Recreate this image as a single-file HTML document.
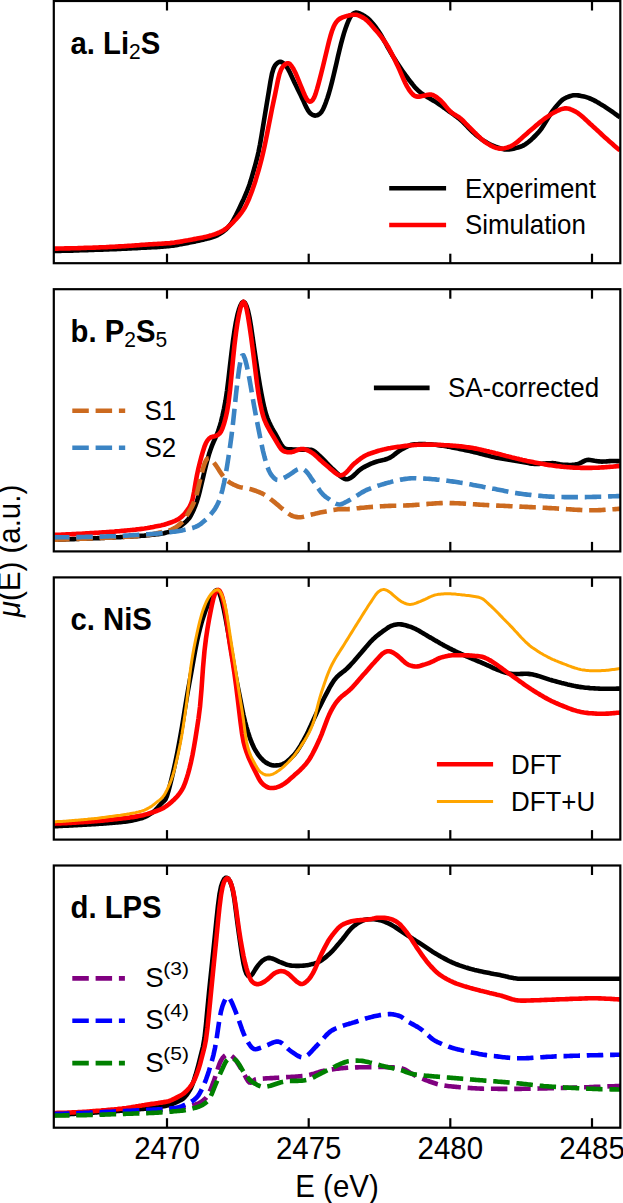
<!DOCTYPE html>
<html><head><meta charset="utf-8"><style>
html,body{margin:0;padding:0;background:#fff;width:623px;height:1203px;overflow:hidden}
svg{display:block}
text{font-family:"Liberation Sans",sans-serif}
</style></head><body>
<svg width="623" height="1203" viewBox="0 0 623 1203">
<defs><clipPath id="c0"><rect x="53.8" y="1.0" width="566.5" height="262.2"/></clipPath><clipPath id="c1"><rect x="53.8" y="289.2" width="566.5" height="262.2"/></clipPath><clipPath id="c2"><rect x="53.8" y="577.4" width="566.5" height="262.2"/></clipPath><clipPath id="c3"><rect x="53.8" y="865.5" width="566.5" height="262.2"/></clipPath></defs>
<rect width="623" height="1203" fill="#fff"/>
<path d="M53.0,251.0 54.5,251.0 56.0,250.9 57.5,250.9 59.0,250.9 60.5,250.9 62.0,250.8 63.5,250.8 65.0,250.8 66.5,250.7 68.0,250.7 69.5,250.6 71.0,250.6 72.5,250.6 74.0,250.5 75.5,250.5 77.0,250.4 78.5,250.4 80.0,250.3 81.5,250.3 83.0,250.2 84.5,250.2 86.0,250.1 87.5,250.1 89.0,250.0 90.5,250.0 92.0,249.9 93.5,249.9 95.0,249.8 96.5,249.8 98.0,249.7 99.5,249.7 101.0,249.6 102.5,249.6 104.0,249.5 105.5,249.5 107.0,249.4 108.5,249.4 110.0,249.3 111.5,249.2 113.0,249.2 114.5,249.1 116.0,249.1 117.5,249.0 119.0,248.9 120.5,248.9 122.0,248.8 123.5,248.7 125.0,248.7 126.5,248.6 128.0,248.5 129.5,248.4 131.0,248.4 132.5,248.3 134.0,248.2 135.5,248.2 137.0,248.1 138.5,248.0 140.0,247.9 141.5,247.8 143.0,247.8 144.5,247.7 146.0,247.6 147.5,247.5 149.0,247.5 150.5,247.4 152.0,247.3 153.5,247.2 155.0,247.1 156.5,247.1 158.0,247.0 159.5,246.9 161.0,246.8 162.5,246.7 164.0,246.5 165.5,246.4 167.0,246.3 168.5,246.1 170.0,246.0 171.5,245.8 173.0,245.6 174.5,245.4 176.0,245.1 177.5,244.9 179.0,244.6 180.5,244.3 182.0,244.1 183.5,243.8 185.0,243.5 186.5,243.2 188.0,242.9 189.5,242.6 191.0,242.3 192.5,242.0 194.0,241.7 195.5,241.4 197.0,241.0 198.5,240.7 200.0,240.4 201.5,240.0 203.0,239.7 204.5,239.3 206.0,238.9 207.5,238.6 209.0,238.2 210.5,237.8 212.0,237.3 213.5,236.8 215.0,236.3 216.5,235.7 218.0,234.9 219.5,234.0 221.0,233.1 222.5,232.1 224.0,231.0 225.5,229.8 227.0,228.4 228.5,226.8 230.0,225.1 231.5,223.0 233.0,220.6 234.5,217.9 236.0,215.1 237.5,212.1 239.0,209.0 240.5,205.8 242.0,202.6 243.5,199.4 245.0,196.0 246.5,192.5 248.0,188.7 249.5,184.5 251.0,179.8 252.5,174.7 254.0,169.5 255.5,164.1 257.0,158.4 258.5,152.0 260.0,144.5 261.5,135.9 263.0,126.7 264.5,117.5 266.0,108.4 267.5,99.4 269.0,90.3 270.5,81.1 272.0,73.5 273.5,68.6 275.0,65.5 276.5,63.7 278.0,62.5 279.5,61.8 281.0,61.8 282.5,62.5 284.0,63.7 285.5,65.3 287.0,67.4 288.5,69.9 290.0,72.8 291.5,76.0 293.0,79.3 294.5,82.5 296.0,85.6 297.5,88.7 299.0,91.8 300.5,94.8 302.0,97.9 303.5,101.1 305.0,104.5 306.5,107.7 308.0,110.4 309.5,112.5 311.0,113.9 312.5,114.8 314.0,115.4 315.5,115.6 317.0,115.3 318.5,114.6 320.0,113.6 321.5,111.9 323.0,109.4 324.5,106.0 326.0,102.1 327.5,97.8 329.0,93.0 330.5,87.6 332.0,81.8 333.5,75.7 335.0,69.4 336.5,62.9 338.0,56.3 339.5,49.9 341.0,43.9 342.5,38.3 344.0,33.1 345.5,28.5 347.0,24.4 348.5,20.7 350.0,17.6 351.5,15.3 353.0,13.8 354.5,12.9 356.0,12.6 357.5,12.8 359.0,13.2 360.5,13.8 362.0,14.5 363.5,15.4 365.0,16.3 366.5,17.3 368.0,18.5 369.5,19.9 371.0,21.5 372.5,23.2 374.0,25.0 375.5,26.9 377.0,29.0 378.5,31.1 380.0,33.5 381.5,36.0 383.0,38.6 384.5,41.3 386.0,44.0 387.5,46.8 389.0,49.5 390.5,52.1 392.0,54.7 393.5,57.1 395.0,59.5 396.5,61.9 398.0,64.2 399.5,66.5 401.0,68.8 402.5,71.0 404.0,73.1 405.5,75.2 407.0,77.2 408.5,79.2 410.0,81.1 411.5,83.0 413.0,84.9 414.5,86.7 416.0,88.4 417.5,89.9 419.0,91.3 420.5,92.5 422.0,93.7 423.5,94.7 425.0,95.7 426.5,96.6 428.0,97.5 429.5,98.3 431.0,99.2 432.5,100.1 434.0,100.9 435.5,101.9 437.0,102.8 438.5,103.8 440.0,104.9 441.5,105.9 443.0,107.0 444.5,108.0 446.0,109.1 447.5,110.2 449.0,111.3 450.5,112.4 452.0,113.4 453.5,114.5 455.0,115.6 456.5,116.7 458.0,117.8 459.5,118.9 461.0,120.2 462.5,121.6 464.0,123.1 465.5,124.7 467.0,126.3 468.5,127.9 470.0,129.4 471.5,130.9 473.0,132.3 474.5,133.6 476.0,134.9 477.5,136.1 479.0,137.3 480.5,138.5 482.0,139.6 483.5,140.6 485.0,141.6 486.5,142.4 488.0,143.3 489.5,144.1 491.0,144.8 492.5,145.5 494.0,146.1 495.5,146.7 497.0,147.2 498.5,147.8 500.0,148.3 501.5,148.7 503.0,149.1 504.5,149.4 506.0,149.5 507.5,149.5 509.0,149.5 510.5,149.3 512.0,149.0 513.5,148.7 515.0,148.3 516.5,147.9 518.0,147.5 519.5,147.0 521.0,146.5 522.5,145.9 524.0,145.1 525.5,144.2 527.0,143.1 528.5,142.0 530.0,140.7 531.5,139.4 533.0,138.0 534.5,136.5 536.0,135.0 537.5,133.4 539.0,131.8 540.5,129.9 542.0,127.8 543.5,125.5 545.0,123.1 546.5,120.6 548.0,118.1 549.5,115.7 551.0,113.3 552.5,111.1 554.0,109.1 555.5,107.2 557.0,105.4 558.5,103.7 560.0,102.1 561.5,100.6 563.0,99.4 564.5,98.5 566.0,97.7 567.5,97.1 569.0,96.5 570.5,96.0 572.0,95.6 573.5,95.3 575.0,95.2 576.5,95.3 578.0,95.4 579.5,95.6 581.0,95.9 582.5,96.2 584.0,96.5 585.5,96.9 587.0,97.4 588.5,97.9 590.0,98.5 591.5,99.1 593.0,99.8 594.5,100.6 596.0,101.4 597.5,102.3 599.0,103.1 600.5,104.1 602.0,105.0 603.5,105.9 605.0,106.8 606.5,107.8 608.0,108.8 609.5,109.8 611.0,110.8 612.5,111.9 614.0,113.0 615.5,114.1 617.0,115.2 618.5,116.3 620.0,117.1" fill="none" stroke="#000" stroke-width="4.6" stroke-linecap="butt" stroke-linejoin="round" clip-path="url(#c0)"/><path d="M53.0,248.6 54.5,248.6 56.0,248.6 57.5,248.6 59.0,248.5 60.5,248.5 62.0,248.5 63.5,248.5 65.0,248.4 66.5,248.4 68.0,248.4 69.5,248.4 71.0,248.3 72.5,248.3 74.0,248.2 75.5,248.2 77.0,248.2 78.5,248.1 80.0,248.1 81.5,248.0 83.0,248.0 84.5,247.9 86.0,247.9 87.5,247.8 89.0,247.8 90.5,247.7 92.0,247.7 93.5,247.6 95.0,247.6 96.5,247.5 98.0,247.5 99.5,247.4 101.0,247.3 102.5,247.3 104.0,247.2 105.5,247.2 107.0,247.1 108.5,247.0 110.0,246.9 111.5,246.9 113.0,246.8 114.5,246.7 116.0,246.6 117.5,246.5 119.0,246.4 120.5,246.4 122.0,246.3 123.5,246.2 125.0,246.1 126.5,246.0 128.0,245.9 129.5,245.8 131.0,245.7 132.5,245.6 134.0,245.5 135.5,245.4 137.0,245.3 138.5,245.2 140.0,245.0 141.5,244.9 143.0,244.8 144.5,244.7 146.0,244.6 147.5,244.5 149.0,244.4 150.5,244.3 152.0,244.2 153.5,244.1 155.0,244.0 156.5,244.0 158.0,243.9 159.5,243.8 161.0,243.7 162.5,243.6 164.0,243.5 165.5,243.4 167.0,243.3 168.5,243.2 170.0,243.1 171.5,242.9 173.0,242.8 174.5,242.6 176.0,242.3 177.5,242.1 179.0,241.9 180.5,241.6 182.0,241.4 183.5,241.1 185.0,240.8 186.5,240.5 188.0,240.3 189.5,240.0 191.0,239.7 192.5,239.4 194.0,239.1 195.5,238.9 197.0,238.6 198.5,238.3 200.0,238.0 201.5,237.7 203.0,237.4 204.5,237.1 206.0,236.8 207.5,236.4 209.0,236.0 210.5,235.5 212.0,235.1 213.5,234.6 215.0,234.2 216.5,233.6 218.0,233.0 219.5,232.4 221.0,231.7 222.5,230.9 224.0,230.0 225.5,229.0 227.0,227.9 228.5,226.6 230.0,225.3 231.5,223.9 233.0,222.4 234.5,220.8 236.0,219.2 237.5,217.5 239.0,215.7 240.5,213.8 242.0,211.8 243.5,209.6 245.0,207.2 246.5,204.3 248.0,201.1 249.5,197.5 251.0,193.6 252.5,189.6 254.0,185.3 255.5,180.7 257.0,175.7 258.5,170.5 260.0,165.1 261.5,159.4 263.0,153.2 264.5,146.6 266.0,139.4 267.5,131.8 269.0,124.1 270.5,116.5 272.0,108.9 273.5,101.7 275.0,94.7 276.5,87.4 278.0,79.9 279.5,73.8 281.0,69.7 282.5,67.1 284.0,65.3 285.5,64.1 287.0,63.3 288.5,63.3 290.0,64.1 291.5,65.9 293.0,68.2 294.5,71.0 296.0,74.1 297.5,77.6 299.0,81.3 300.5,85.0 302.0,88.7 303.5,92.3 305.0,95.7 306.5,98.6 308.0,100.6 309.5,101.6 311.0,101.4 312.5,100.2 314.0,97.8 315.5,94.1 317.0,89.2 318.5,83.8 320.0,78.2 321.5,72.3 323.0,66.2 324.5,60.0 326.0,53.8 327.5,47.5 329.0,41.4 330.5,35.8 332.0,31.0 333.5,27.1 335.0,24.0 336.5,21.7 338.0,20.1 339.5,18.9 341.0,18.1 342.5,17.4 344.0,16.9 345.5,16.4 347.0,16.0 348.5,15.6 350.0,15.3 351.5,15.0 353.0,14.8 354.5,14.7 356.0,14.8 357.5,15.1 359.0,15.6 360.5,16.3 362.0,17.1 363.5,17.9 365.0,18.9 366.5,20.1 368.0,21.5 369.5,23.1 371.0,24.8 372.5,26.5 374.0,28.2 375.5,29.9 377.0,31.6 378.5,33.4 380.0,35.2 381.5,37.2 383.0,39.2 384.5,41.3 386.0,43.6 387.5,45.9 389.0,48.5 390.5,51.3 392.0,54.2 393.5,57.2 395.0,60.2 396.5,63.4 398.0,66.5 399.5,69.9 401.0,73.4 402.5,76.9 404.0,80.3 405.5,83.5 407.0,86.4 408.5,88.9 410.0,91.1 411.5,93.0 413.0,94.6 414.5,95.8 416.0,96.4 417.5,96.6 419.0,96.6 420.5,96.4 422.0,96.1 423.5,95.7 425.0,95.4 426.5,95.1 428.0,94.8 429.5,94.6 431.0,94.6 432.5,94.9 434.0,95.6 435.5,96.5 437.0,97.5 438.5,98.7 440.0,100.0 441.5,101.4 443.0,103.1 444.5,104.8 446.0,106.6 447.5,108.4 449.0,110.1 450.5,111.6 452.0,112.9 453.5,113.9 455.0,114.9 456.5,115.7 458.0,116.6 459.5,117.7 461.0,118.9 462.5,120.3 464.0,121.7 465.5,123.3 467.0,124.8 468.5,126.4 470.0,127.9 471.5,129.4 473.0,130.9 474.5,132.4 476.0,133.8 477.5,135.3 479.0,136.8 480.5,138.2 482.0,139.5 483.5,140.8 485.0,141.9 486.5,143.0 488.0,143.9 489.5,144.8 491.0,145.7 492.5,146.4 494.0,147.1 495.5,147.7 497.0,148.1 498.5,148.4 500.0,148.6 501.5,148.6 503.0,148.5 504.5,148.3 506.0,147.9 507.5,147.5 509.0,146.9 510.5,146.3 512.0,145.6 513.5,144.7 515.0,143.7 516.5,142.6 518.0,141.4 519.5,140.1 521.0,138.8 522.5,137.4 524.0,136.0 525.5,134.7 527.0,133.4 528.5,132.1 530.0,130.8 531.5,129.5 533.0,128.2 534.5,126.9 536.0,125.6 537.5,124.4 539.0,123.1 540.5,121.9 542.0,120.7 543.5,119.5 545.0,118.4 546.5,117.3 548.0,116.3 549.5,115.3 551.0,114.3 552.5,113.4 554.0,112.5 555.5,111.8 557.0,111.0 558.5,110.3 560.0,109.6 561.5,109.1 563.0,108.7 564.5,108.4 566.0,108.3 567.5,108.5 569.0,108.8 570.5,109.3 572.0,109.9 573.5,110.6 575.0,111.3 576.5,112.2 578.0,113.2 579.5,114.3 581.0,115.5 582.5,116.8 584.0,118.1 585.5,119.5 587.0,120.9 588.5,122.3 590.0,123.7 591.5,125.0 593.0,126.4 594.5,127.7 596.0,129.1 597.5,130.5 599.0,131.9 600.5,133.3 602.0,134.7 603.5,136.1 605.0,137.5 606.5,138.8 608.0,140.1 609.5,141.5 611.0,142.8 612.5,144.1 614.0,145.4 615.5,146.7 617.0,148.0 618.5,149.2 620.0,150.1" fill="none" stroke="#ff0000" stroke-width="4.6" stroke-linecap="butt" stroke-linejoin="round" clip-path="url(#c0)"/><path d="M53.0,539.7 54.5,539.7 56.0,539.6 57.5,539.6 59.0,539.5 60.5,539.5 62.0,539.5 63.5,539.4 65.0,539.4 66.5,539.3 68.0,539.3 69.5,539.2 71.0,539.2 72.5,539.1 74.0,539.1 75.5,539.0 77.0,539.0 78.5,538.9 80.0,538.8 81.5,538.8 83.0,538.7 84.5,538.7 86.0,538.6 87.5,538.5 89.0,538.5 90.5,538.4 92.0,538.4 93.5,538.3 95.0,538.2 96.5,538.2 98.0,538.1 99.5,538.1 101.0,538.0 102.5,537.9 104.0,537.9 105.5,537.8 107.0,537.8 108.5,537.7 110.0,537.6 111.5,537.5 113.0,537.5 114.5,537.4 116.0,537.3 117.5,537.2 119.0,537.2 120.5,537.1 122.0,537.0 123.5,536.9 125.0,536.8 126.5,536.7 128.0,536.6 129.5,536.6 131.0,536.5 132.5,536.4 134.0,536.3 135.5,536.2 137.0,536.1 138.5,536.0 140.0,535.9 141.5,535.8 143.0,535.7 144.5,535.6 146.0,535.4 147.5,535.3 149.0,535.1 150.5,535.0 152.0,534.8 153.5,534.7 155.0,534.5 156.5,534.3 158.0,534.1 159.5,533.9 161.0,533.7 162.5,533.5 164.0,533.2 165.5,532.8 167.0,532.4 168.5,532.0 170.0,531.5 171.5,530.9 173.0,530.3 174.5,529.6 176.0,528.9 177.5,528.1 179.0,527.2 180.5,526.2 182.0,525.0 183.5,523.8 185.0,522.5 186.5,521.1 188.0,519.5 189.5,517.7 191.0,515.3 192.5,512.3 194.0,509.0 195.5,505.3 197.0,501.2 198.5,496.1 200.0,490.3 201.5,483.9 203.0,477.6 204.5,471.3 206.0,465.2 207.5,459.5 209.0,454.3 210.5,449.7 212.0,445.6 213.5,442.0 215.0,438.8 216.5,435.4 218.0,431.6 219.5,427.1 221.0,421.8 222.5,415.6 224.0,408.7 225.5,400.8 227.0,390.8 228.5,378.7 230.0,365.6 231.5,352.7 233.0,340.9 234.5,330.5 236.0,321.7 237.5,314.7 239.0,309.4 240.5,305.4 242.0,302.7 243.5,301.8 245.0,302.9 246.5,306.0 248.0,310.8 249.5,317.5 251.0,326.5 252.5,336.7 254.0,347.0 255.5,357.2 257.0,367.2 258.5,376.8 260.0,385.9 261.5,394.1 263.0,401.6 264.5,408.4 266.0,414.0 267.5,418.3 269.0,421.9 270.5,425.1 272.0,428.0 273.5,430.7 275.0,433.2 276.5,435.9 278.0,438.7 279.5,441.5 281.0,444.2 282.5,446.4 284.0,448.0 285.5,448.8 287.0,449.1 288.5,449.2 290.0,449.3 291.5,449.4 293.0,449.5 294.5,449.6 296.0,449.6 297.5,449.7 299.0,449.7 300.5,449.7 302.0,449.7 303.5,449.7 305.0,449.6 306.5,449.6 308.0,449.6 309.5,449.7 311.0,449.8 312.5,450.2 314.0,451.0 315.5,452.1 317.0,453.5 318.5,454.9 320.0,456.3 321.5,457.7 323.0,459.2 324.5,460.7 326.0,462.2 327.5,463.8 329.0,465.4 330.5,466.9 332.0,468.4 333.5,469.8 335.0,471.2 336.5,472.6 338.0,474.0 339.5,475.4 341.0,476.6 342.5,477.7 344.0,478.5 345.5,479.1 347.0,479.2 348.5,478.9 350.0,478.2 351.5,477.3 353.0,476.2 354.5,474.8 356.0,473.4 357.5,471.9 359.0,470.5 360.5,469.4 362.0,468.3 363.5,467.4 365.0,466.6 366.5,465.8 368.0,465.1 369.5,464.4 371.0,463.7 372.5,463.1 374.0,462.5 375.5,462.0 377.0,461.5 378.5,461.1 380.0,460.8 381.5,460.4 383.0,460.1 384.5,459.7 386.0,459.2 387.5,458.7 389.0,458.1 390.5,457.4 392.0,456.4 393.5,455.3 395.0,454.1 396.5,452.9 398.0,451.8 399.5,450.7 401.0,449.8 402.5,449.0 404.0,448.2 405.5,447.3 407.0,446.6 408.5,445.9 410.0,445.3 411.5,444.8 413.0,444.5 414.5,444.3 416.0,444.2 417.5,444.2 419.0,444.1 420.5,444.1 422.0,444.1 423.5,444.1 425.0,444.1 426.5,444.2 428.0,444.2 429.5,444.3 431.0,444.4 432.5,444.5 434.0,444.7 435.5,444.8 437.0,445.0 438.5,445.2 440.0,445.4 441.5,445.6 443.0,445.8 444.5,446.0 446.0,446.3 447.5,446.6 449.0,446.8 450.5,447.1 452.0,447.4 453.5,447.7 455.0,448.0 456.5,448.3 458.0,448.6 459.5,448.9 461.0,449.2 462.5,449.5 464.0,449.8 465.5,450.2 467.0,450.5 468.5,450.8 470.0,451.1 471.5,451.5 473.0,451.8 474.5,452.2 476.0,452.5 477.5,452.9 479.0,453.3 480.5,453.7 482.0,454.1 483.5,454.5 485.0,454.9 486.5,455.2 488.0,455.6 489.5,456.0 491.0,456.4 492.5,456.7 494.0,457.1 495.5,457.4 497.0,457.7 498.5,458.0 500.0,458.2 501.5,458.5 503.0,458.8 504.5,459.0 506.0,459.3 507.5,459.5 509.0,459.8 510.5,460.0 512.0,460.2 513.5,460.5 515.0,460.7 516.5,461.0 518.0,461.2 519.5,461.4 521.0,461.7 522.5,461.9 524.0,462.2 525.5,462.5 527.0,462.8 528.5,463.1 530.0,463.4 531.5,463.6 533.0,463.8 534.5,463.9 536.0,464.0 537.5,464.0 539.0,463.9 540.5,463.8 542.0,463.7 543.5,463.6 545.0,463.5 546.5,463.4 548.0,463.3 549.5,463.2 551.0,463.2 552.5,463.1 554.0,463.2 555.5,463.4 557.0,463.7 558.5,464.0 560.0,464.3 561.5,464.5 563.0,464.7 564.5,464.8 566.0,464.9 567.5,464.9 569.0,465.0 570.5,465.0 572.0,464.9 573.5,464.7 575.0,464.5 576.5,464.2 578.0,463.9 579.5,463.4 581.0,462.7 582.5,461.9 584.0,461.1 585.5,460.4 587.0,460.0 588.5,459.9 590.0,460.0 591.5,460.2 593.0,460.5 594.5,460.8 596.0,461.0 597.5,461.3 599.0,461.4 600.5,461.5 602.0,461.6 603.5,461.5 605.0,461.5 606.5,461.4 608.0,461.2 609.5,461.1 611.0,461.0 612.5,461.0 614.0,461.0 615.5,461.0 617.0,461.1 618.5,461.1 620.0,461.2" fill="none" stroke="#000" stroke-width="4.6" stroke-linecap="butt" stroke-linejoin="round" clip-path="url(#c1)"/><path d="M53.0,534.9 54.5,534.9 56.0,534.8 57.5,534.8 59.0,534.7 60.5,534.7 62.0,534.6 63.5,534.6 65.0,534.5 66.5,534.4 68.0,534.4 69.5,534.3 71.0,534.2 72.5,534.1 74.0,534.1 75.5,534.0 77.0,533.9 78.5,533.8 80.0,533.7 81.5,533.7 83.0,533.6 84.5,533.5 86.0,533.4 87.5,533.3 89.0,533.2 90.5,533.1 92.0,533.0 93.5,533.0 95.0,532.9 96.5,532.8 98.0,532.7 99.5,532.6 101.0,532.5 102.5,532.4 104.0,532.3 105.5,532.2 107.0,532.1 108.5,532.0 110.0,531.9 111.5,531.8 113.0,531.7 114.5,531.6 116.0,531.4 117.5,531.3 119.0,531.2 120.5,531.0 122.0,530.9 123.5,530.8 125.0,530.6 126.5,530.5 128.0,530.3 129.5,530.2 131.0,530.0 132.5,529.9 134.0,529.7 135.5,529.6 137.0,529.4 138.5,529.3 140.0,529.1 141.5,528.9 143.0,528.7 144.5,528.5 146.0,528.2 147.5,528.0 149.0,527.7 150.5,527.4 152.0,527.2 153.5,526.9 155.0,526.6 156.5,526.3 158.0,526.0 159.5,525.7 161.0,525.4 162.5,525.0 164.0,524.7 165.5,524.2 167.0,523.8 168.5,523.3 170.0,522.8 171.5,522.3 173.0,521.7 174.5,521.1 176.0,520.4 177.5,519.6 179.0,518.7 180.5,517.6 182.0,516.4 183.5,514.9 185.0,513.2 186.5,511.3 188.0,509.2 189.5,506.9 191.0,503.9 192.5,499.4 194.0,492.2 195.5,483.2 197.0,474.9 198.5,468.0 200.0,462.0 201.5,456.4 203.0,451.2 204.5,446.5 206.0,442.9 207.5,440.4 209.0,438.6 210.5,437.5 212.0,436.9 213.5,436.5 215.0,436.2 216.5,435.6 218.0,434.8 219.5,433.5 221.0,431.5 222.5,428.2 224.0,423.8 225.5,418.4 227.0,411.8 228.5,402.8 230.0,390.5 231.5,375.4 233.0,359.6 234.5,345.0 236.0,332.7 237.5,322.5 239.0,314.2 240.5,307.7 242.0,303.3 243.5,301.8 245.0,303.5 246.5,308.6 248.0,316.4 249.5,325.8 251.0,336.2 252.5,347.4 254.0,359.2 255.5,371.4 257.0,383.5 258.5,393.9 260.0,402.5 261.5,409.6 263.0,415.4 264.5,419.9 266.0,423.4 267.5,426.4 269.0,429.2 270.5,431.9 272.0,434.4 273.5,436.8 275.0,439.2 276.5,441.7 278.0,444.3 279.5,446.7 281.0,448.8 282.5,450.3 284.0,451.3 285.5,451.8 287.0,452.1 288.5,452.3 290.0,452.3 291.5,452.1 293.0,451.7 294.5,451.2 296.0,450.6 297.5,450.0 299.0,449.5 300.5,449.1 302.0,449.0 303.5,449.0 305.0,449.4 306.5,449.9 308.0,450.5 309.5,451.3 311.0,452.1 312.5,453.1 314.0,454.2 315.5,455.5 317.0,456.9 318.5,458.3 320.0,459.7 321.5,461.1 323.0,462.4 324.5,463.7 326.0,465.0 327.5,466.3 329.0,467.6 330.5,468.9 332.0,470.1 333.5,471.4 335.0,472.6 336.5,473.8 338.0,474.7 339.5,475.2 341.0,475.4 342.5,475.0 344.0,474.2 345.5,473.1 347.0,471.6 348.5,470.0 350.0,468.2 351.5,466.4 353.0,464.8 354.5,463.4 356.0,462.2 357.5,460.9 359.0,459.8 360.5,458.7 362.0,457.6 363.5,456.6 365.0,455.8 366.5,455.0 368.0,454.3 369.5,453.8 371.0,453.2 372.5,452.7 374.0,452.2 375.5,451.8 377.0,451.3 378.5,450.8 380.0,450.4 381.5,450.0 383.0,449.6 384.5,449.3 386.0,448.9 387.5,448.6 389.0,448.3 390.5,448.1 392.0,447.8 393.5,447.5 395.0,447.3 396.5,447.1 398.0,446.9 399.5,446.7 401.0,446.5 402.5,446.3 404.0,446.1 405.5,445.9 407.0,445.7 408.5,445.5 410.0,445.4 411.5,445.2 413.0,445.1 414.5,445.0 416.0,444.9 417.5,444.8 419.0,444.8 420.5,444.7 422.0,444.7 423.5,444.6 425.0,444.6 426.5,444.6 428.0,444.6 429.5,444.6 431.0,444.6 432.5,444.6 434.0,444.7 435.5,444.7 437.0,444.8 438.5,444.9 440.0,444.9 441.5,445.0 443.0,445.1 444.5,445.2 446.0,445.2 447.5,445.3 449.0,445.4 450.5,445.5 452.0,445.6 453.5,445.7 455.0,445.8 456.5,446.0 458.0,446.1 459.5,446.3 461.0,446.4 462.5,446.6 464.0,446.8 465.5,447.0 467.0,447.2 468.5,447.4 470.0,447.6 471.5,447.8 473.0,448.1 474.5,448.4 476.0,448.6 477.5,448.9 479.0,449.3 480.5,449.6 482.0,449.9 483.5,450.3 485.0,450.6 486.5,451.0 488.0,451.3 489.5,451.7 491.0,452.0 492.5,452.4 494.0,452.8 495.5,453.2 497.0,453.5 498.5,453.9 500.0,454.3 501.5,454.7 503.0,455.1 504.5,455.5 506.0,455.9 507.5,456.2 509.0,456.6 510.5,457.0 512.0,457.4 513.5,457.7 515.0,458.1 516.5,458.5 518.0,458.8 519.5,459.2 521.0,459.5 522.5,459.9 524.0,460.2 525.5,460.5 527.0,460.9 528.5,461.2 530.0,461.5 531.5,461.8 533.0,462.1 534.5,462.4 536.0,462.7 537.5,463.0 539.0,463.3 540.5,463.6 542.0,463.8 543.5,464.1 545.0,464.4 546.5,464.6 548.0,464.9 549.5,465.1 551.0,465.3 552.5,465.5 554.0,465.7 555.5,465.9 557.0,466.1 558.5,466.2 560.0,466.4 561.5,466.6 563.0,466.7 564.5,466.9 566.0,467.0 567.5,467.2 569.0,467.3 570.5,467.4 572.0,467.5 573.5,467.6 575.0,467.7 576.5,467.7 578.0,467.8 579.5,467.8 581.0,467.9 582.5,467.9 584.0,467.9 585.5,467.9 587.0,467.9 588.5,467.9 590.0,467.9 591.5,467.9 593.0,467.8 594.5,467.8 596.0,467.7 597.5,467.7 599.0,467.6 600.5,467.5 602.0,467.4 603.5,467.4 605.0,467.3 606.5,467.1 608.0,467.0 609.5,466.9 611.0,466.8 612.5,466.7 614.0,466.5 615.5,466.4 617.0,466.3 618.5,466.1 620.0,466.0" fill="none" stroke="#ff0000" stroke-width="4.6" stroke-linecap="butt" stroke-linejoin="round" clip-path="url(#c1)"/><path d="M53.0,539.7 54.5,539.7 56.0,539.6 57.5,539.6 59.0,539.5 60.5,539.5 62.0,539.5 63.5,539.4 65.0,539.4 66.5,539.3 68.0,539.3 69.5,539.2 71.0,539.2 72.5,539.1 74.0,539.1 75.5,539.0 77.0,538.9 78.5,538.9 80.0,538.8 81.5,538.8 83.0,538.7 84.5,538.7 86.0,538.6 87.5,538.5 89.0,538.5 90.5,538.4 92.0,538.4 93.5,538.3 95.0,538.2 96.5,538.2 98.0,538.1 99.5,538.1 101.0,538.0 102.5,537.9 104.0,537.9 105.5,537.8 107.0,537.8 108.5,537.7 110.0,537.6 111.5,537.6 113.0,537.5 114.5,537.4 116.0,537.3 117.5,537.2 119.0,537.2 120.5,537.1 122.0,537.0 123.5,536.9 125.0,536.8 126.5,536.7 128.0,536.7 129.5,536.6 131.0,536.5 132.5,536.4 134.0,536.3 135.5,536.2 137.0,536.1 138.5,536.0 140.0,535.9 141.5,535.7 143.0,535.6 144.5,535.4 146.0,535.2 147.5,534.9 149.0,534.7 150.5,534.4 152.0,534.2 153.5,533.9 155.0,533.6 156.5,533.3 158.0,532.9 159.5,532.6 161.0,532.3 162.5,531.9 164.0,531.6 165.5,531.3 167.0,530.9 168.5,530.6 170.0,530.1 171.5,529.6 173.0,528.9 174.5,528.0 176.0,527.1 177.5,526.0 179.0,524.9 180.5,523.6 182.0,522.3 183.5,520.6 185.0,518.5 186.5,516.1 188.0,513.6 189.5,511.0 191.0,508.4 192.5,505.6 194.0,502.3 195.5,498.2 197.0,493.0 198.5,486.7 200.0,480.2 201.5,474.1 203.0,468.5 204.5,463.7 206.0,460.3 207.5,458.6 209.0,458.3 210.5,459.1 212.0,460.5 213.5,462.2 215.0,464.1 216.5,466.3 218.0,468.6 219.5,470.9 221.0,473.2 222.5,475.4 224.0,477.5 225.5,479.2 227.0,480.6 228.5,481.7 230.0,482.7 231.5,483.5 233.0,484.3 234.5,485.0 236.0,485.7 237.5,486.3 239.0,486.9 240.5,487.3 242.0,487.6 243.5,487.9 245.0,488.1 246.5,488.3 248.0,488.6 249.5,488.9 251.0,489.3 252.5,489.7 254.0,490.2 255.5,490.7 257.0,491.3 258.5,491.9 260.0,492.5 261.5,493.2 263.0,493.9 264.5,494.8 266.0,495.7 267.5,496.8 269.0,497.9 270.5,499.1 272.0,500.2 273.5,501.4 275.0,502.6 276.5,503.9 278.0,505.1 279.5,506.4 281.0,507.7 282.5,508.9 284.0,510.1 285.5,511.3 287.0,512.5 288.5,513.6 290.0,514.6 291.5,515.5 293.0,516.1 294.5,516.6 296.0,516.9 297.5,517.1 299.0,517.2 300.5,517.2 302.0,517.0 303.5,516.7 305.0,516.3 306.5,515.9 308.0,515.5 309.5,515.1 311.0,514.7 312.5,514.3 314.0,514.0 315.5,513.6 317.0,513.3 318.5,512.9 320.0,512.6 321.5,512.3 323.0,512.0 324.5,511.7 326.0,511.4 327.5,511.1 329.0,510.8 330.5,510.5 332.0,510.2 333.5,510.0 335.0,509.7 336.5,509.5 338.0,509.3 339.5,509.2 341.0,509.1 342.5,509.1 344.0,509.1 345.5,509.1 347.0,509.2 348.5,509.1 350.0,509.1 351.5,508.9 353.0,508.7 354.5,508.5 356.0,508.4 357.5,508.2 359.0,508.1 360.5,507.9 362.0,507.8 363.5,507.7 365.0,507.5 366.5,507.4 368.0,507.3 369.5,507.1 371.0,507.0 372.5,506.9 374.0,506.8 375.5,506.7 377.0,506.6 378.5,506.5 380.0,506.4 381.5,506.3 383.0,506.2 384.5,506.1 386.0,506.0 387.5,506.0 389.0,505.9 390.5,505.9 392.0,505.8 393.5,505.8 395.0,505.7 396.5,505.7 398.0,505.7 399.5,505.6 401.0,505.6 402.5,505.5 404.0,505.5 405.5,505.5 407.0,505.4 408.5,505.4 410.0,505.3 411.5,505.2 413.0,505.1 414.5,505.0 416.0,504.9 417.5,504.8 419.0,504.7 420.5,504.6 422.0,504.5 423.5,504.3 425.0,504.2 426.5,504.1 428.0,503.9 429.5,503.8 431.0,503.7 432.5,503.6 434.0,503.5 435.5,503.4 437.0,503.3 438.5,503.2 440.0,503.1 441.5,503.1 443.0,503.0 444.5,503.0 446.0,503.0 447.5,503.0 449.0,503.0 450.5,503.1 452.0,503.1 453.5,503.1 455.0,503.2 456.5,503.2 458.0,503.3 459.5,503.4 461.0,503.5 462.5,503.5 464.0,503.6 465.5,503.7 467.0,503.8 468.5,503.9 470.0,504.0 471.5,504.1 473.0,504.2 474.5,504.3 476.0,504.4 477.5,504.5 479.0,504.6 480.5,504.7 482.0,504.8 483.5,504.9 485.0,505.0 486.5,505.0 488.0,505.1 489.5,505.2 491.0,505.3 492.5,505.3 494.0,505.4 495.5,505.5 497.0,505.6 498.5,505.6 500.0,505.7 501.5,505.8 503.0,505.8 504.5,505.9 506.0,506.0 507.5,506.0 509.0,506.1 510.5,506.2 512.0,506.2 513.5,506.3 515.0,506.4 516.5,506.4 518.0,506.5 519.5,506.6 521.0,506.6 522.5,506.7 524.0,506.8 525.5,506.9 527.0,506.9 528.5,507.0 530.0,507.1 531.5,507.1 533.0,507.2 534.5,507.3 536.0,507.3 537.5,507.4 539.0,507.5 540.5,507.6 542.0,507.6 543.5,507.7 545.0,507.8 546.5,507.9 548.0,508.0 549.5,508.1 551.0,508.1 552.5,508.2 554.0,508.3 555.5,508.4 557.0,508.5 558.5,508.6 560.0,508.7 561.5,508.8 563.0,508.9 564.5,509.0 566.0,509.1 567.5,509.2 569.0,509.3 570.5,509.4 572.0,509.5 573.5,509.6 575.0,509.7 576.5,509.8 578.0,509.9 579.5,509.9 581.0,510.0 582.5,510.1 584.0,510.1 585.5,510.2 587.0,510.2 588.5,510.3 590.0,510.3 591.5,510.3 593.0,510.3 594.5,510.2 596.0,510.2 597.5,510.2 599.0,510.1 600.5,510.1 602.0,510.0 603.5,509.9 605.0,509.8 606.5,509.7 608.0,509.6 609.5,509.5 611.0,509.4 612.5,509.3 614.0,509.2 615.5,509.1 617.0,509.0 618.5,508.9 620.0,508.8" fill="none" stroke="#cc6a1f" stroke-width="4.6" stroke-dasharray="16.5 6.8" stroke-linecap="butt" stroke-linejoin="round" clip-path="url(#c1)"/><path d="M53.0,537.3 54.5,537.3 56.0,537.3 57.5,537.3 59.0,537.3 60.5,537.3 62.0,537.3 63.5,537.3 65.0,537.3 66.5,537.2 68.0,537.2 69.5,537.2 71.0,537.2 72.5,537.2 74.0,537.2 75.5,537.1 77.0,537.1 78.5,537.1 80.0,537.1 81.5,537.0 83.0,537.0 84.5,537.0 86.0,536.9 87.5,536.9 89.0,536.9 90.5,536.8 92.0,536.8 93.5,536.8 95.0,536.7 96.5,536.7 98.0,536.7 99.5,536.6 101.0,536.6 102.5,536.6 104.0,536.5 105.5,536.5 107.0,536.4 108.5,536.4 110.0,536.3 111.5,536.3 113.0,536.2 114.5,536.2 116.0,536.1 117.5,536.0 119.0,535.9 120.5,535.9 122.0,535.8 123.5,535.7 125.0,535.6 126.5,535.6 128.0,535.5 129.5,535.4 131.0,535.3 132.5,535.2 134.0,535.1 135.5,535.0 137.0,535.0 138.5,534.9 140.0,534.8 141.5,534.7 143.0,534.6 144.5,534.5 146.0,534.4 147.5,534.3 149.0,534.2 150.5,534.1 152.0,534.0 153.5,533.9 155.0,533.8 156.5,533.6 158.0,533.5 159.5,533.4 161.0,533.2 162.5,533.1 164.0,532.9 165.5,532.7 167.0,532.6 168.5,532.4 170.0,532.2 171.5,532.0 173.0,531.8 174.5,531.7 176.0,531.4 177.5,531.2 179.0,530.9 180.5,530.7 182.0,530.4 183.5,530.1 185.0,529.7 186.5,529.4 188.0,529.1 189.5,528.7 191.0,528.4 192.5,528.0 194.0,527.4 195.5,526.9 197.0,526.2 198.5,525.4 200.0,524.4 201.5,523.3 203.0,522.0 204.5,520.7 206.0,519.4 207.5,517.9 209.0,516.3 210.5,514.6 212.0,512.8 213.5,510.9 215.0,508.8 216.5,506.3 218.0,503.3 219.5,499.7 221.0,495.1 222.5,489.6 224.0,483.0 225.5,475.5 227.0,466.7 228.5,457.0 230.0,446.8 231.5,435.9 233.0,423.3 234.5,408.9 236.0,394.3 237.5,380.9 239.0,369.7 240.5,361.0 242.0,355.7 243.5,355.3 245.0,358.9 246.5,364.6 248.0,371.4 249.5,379.2 251.0,387.8 252.5,396.8 254.0,405.4 255.5,413.5 257.0,421.3 258.5,429.0 260.0,436.6 261.5,444.1 263.0,451.0 264.5,457.0 266.0,462.3 267.5,467.0 269.0,470.8 270.5,473.7 272.0,475.8 273.5,477.5 275.0,478.9 276.5,479.8 278.0,480.0 279.5,479.7 281.0,479.2 282.5,478.6 284.0,477.9 285.5,477.1 287.0,476.2 288.5,475.4 290.0,474.4 291.5,473.4 293.0,472.3 294.5,471.2 296.0,470.3 297.5,469.4 299.0,468.8 300.5,468.6 302.0,468.8 303.5,469.3 305.0,470.3 306.5,471.7 308.0,473.5 309.5,475.6 311.0,477.9 312.5,480.1 314.0,482.3 315.5,484.4 317.0,486.6 318.5,488.7 320.0,490.8 321.5,492.8 323.0,494.5 324.5,495.9 326.0,497.1 327.5,498.1 329.0,499.1 330.5,500.2 332.0,501.3 333.5,502.3 335.0,503.2 336.5,503.9 338.0,504.3 339.5,504.5 341.0,504.2 342.5,503.7 344.0,503.0 345.5,502.2 347.0,501.5 348.5,500.6 350.0,499.8 351.5,498.9 353.0,498.0 354.5,497.2 356.0,496.2 357.5,495.3 359.0,494.3 360.5,493.4 362.0,492.4 363.5,491.6 365.0,490.8 366.5,490.0 368.0,489.4 369.5,488.8 371.0,488.2 372.5,487.6 374.0,487.0 375.5,486.5 377.0,486.0 378.5,485.5 380.0,485.1 381.5,484.6 383.0,484.2 384.5,483.8 386.0,483.3 387.5,482.9 389.0,482.5 390.5,482.1 392.0,481.6 393.5,481.2 395.0,480.9 396.5,480.5 398.0,480.2 399.5,479.9 401.0,479.6 402.5,479.4 404.0,479.1 405.5,478.9 407.0,478.7 408.5,478.5 410.0,478.4 411.5,478.3 413.0,478.2 414.5,478.2 416.0,478.2 417.5,478.3 419.0,478.3 420.5,478.4 422.0,478.4 423.5,478.5 425.0,478.6 426.5,478.7 428.0,478.8 429.5,478.9 431.0,479.0 432.5,479.2 434.0,479.3 435.5,479.4 437.0,479.6 438.5,479.7 440.0,479.9 441.5,480.1 443.0,480.2 444.5,480.4 446.0,480.6 447.5,480.8 449.0,481.0 450.5,481.2 452.0,481.4 453.5,481.6 455.0,481.8 456.5,482.0 458.0,482.2 459.5,482.5 461.0,482.7 462.5,483.0 464.0,483.2 465.5,483.5 467.0,483.7 468.5,484.0 470.0,484.3 471.5,484.6 473.0,484.9 474.5,485.2 476.0,485.4 477.5,485.7 479.0,486.0 480.5,486.3 482.0,486.6 483.5,486.9 485.0,487.2 486.5,487.5 488.0,487.7 489.5,488.0 491.0,488.3 492.5,488.6 494.0,488.8 495.5,489.1 497.0,489.4 498.5,489.7 500.0,490.0 501.5,490.3 503.0,490.6 504.5,490.9 506.0,491.2 507.5,491.5 509.0,491.8 510.5,492.1 512.0,492.4 513.5,492.6 515.0,492.9 516.5,493.1 518.0,493.4 519.5,493.6 521.0,493.8 522.5,494.0 524.0,494.2 525.5,494.4 527.0,494.6 528.5,494.8 530.0,494.9 531.5,495.1 533.0,495.2 534.5,495.4 536.0,495.5 537.5,495.7 539.0,495.8 540.5,495.9 542.0,496.0 543.5,496.2 545.0,496.3 546.5,496.4 548.0,496.5 549.5,496.6 551.0,496.6 552.5,496.7 554.0,496.8 555.5,496.8 557.0,496.9 558.5,496.9 560.0,497.0 561.5,497.0 563.0,497.0 564.5,497.1 566.0,497.1 567.5,497.1 569.0,497.1 570.5,497.1 572.0,497.1 573.5,497.1 575.0,497.1 576.5,497.1 578.0,497.1 579.5,497.1 581.0,497.1 582.5,497.1 584.0,497.1 585.5,497.1 587.0,497.0 588.5,497.0 590.0,497.0 591.5,497.0 593.0,496.9 594.5,496.9 596.0,496.9 597.5,496.8 599.0,496.8 600.5,496.7 602.0,496.7 603.5,496.6 605.0,496.6 606.5,496.5 608.0,496.5 609.5,496.4 611.0,496.4 612.5,496.3 614.0,496.3 615.5,496.2 617.0,496.1 618.5,496.1 620.0,496.0" fill="none" stroke="#3b84c4" stroke-width="4.6" stroke-dasharray="16.5 6.8" stroke-linecap="butt" stroke-linejoin="round" clip-path="url(#c1)"/><path d="M53.0,826.2 54.5,826.2 56.0,826.1 57.5,826.1 59.0,826.0 60.5,825.9 62.0,825.9 63.5,825.8 65.0,825.7 66.5,825.7 68.0,825.6 69.5,825.5 71.0,825.4 72.5,825.4 74.0,825.3 75.5,825.2 77.0,825.1 78.5,825.0 80.0,825.0 81.5,824.9 83.0,824.8 84.5,824.7 86.0,824.6 87.5,824.5 89.0,824.5 90.5,824.4 92.0,824.3 93.5,824.2 95.0,824.1 96.5,824.0 98.0,823.9 99.5,823.8 101.0,823.7 102.5,823.6 104.0,823.5 105.5,823.4 107.0,823.2 108.5,823.1 110.0,823.0 111.5,822.9 113.0,822.7 114.5,822.6 116.0,822.5 117.5,822.4 119.0,822.2 120.5,822.1 122.0,822.0 123.5,821.8 125.0,821.7 126.5,821.5 128.0,821.2 129.5,821.0 131.0,820.7 132.5,820.4 134.0,820.1 135.5,819.7 137.0,819.4 138.5,819.0 140.0,818.6 141.5,818.2 143.0,817.7 144.5,817.1 146.0,816.4 147.5,815.6 149.0,814.8 150.5,813.9 152.0,812.9 153.5,811.7 155.0,810.4 156.5,809.0 158.0,807.3 159.5,805.6 161.0,803.8 162.5,802.3 164.0,801.1 165.5,799.4 167.0,795.9 168.5,790.9 170.0,785.1 171.5,779.1 173.0,772.8 174.5,766.1 176.0,759.0 177.5,751.6 179.0,743.7 180.5,735.5 182.0,726.8 183.5,717.7 185.0,708.2 186.5,699.0 188.0,690.3 189.5,682.1 191.0,674.0 192.5,665.7 194.0,657.2 195.5,648.9 197.0,641.2 198.5,634.5 200.0,628.4 201.5,623.0 203.0,617.9 204.5,613.4 206.0,609.3 207.5,605.6 209.0,602.1 210.5,598.7 212.0,595.7 213.5,593.1 215.0,591.2 216.5,590.1 218.0,590.6 219.5,593.3 221.0,597.8 222.5,603.5 224.0,610.3 225.5,617.9 227.0,626.0 228.5,634.4 230.0,642.9 231.5,651.7 233.0,660.6 234.5,669.4 236.0,677.7 237.5,685.4 239.0,692.8 240.5,700.3 242.0,708.0 243.5,715.2 245.0,721.5 246.5,727.1 248.0,732.1 249.5,736.7 251.0,740.9 252.5,744.6 254.0,747.8 255.5,750.5 257.0,752.9 258.5,755.1 260.0,757.0 261.5,758.7 263.0,760.2 264.5,761.5 266.0,762.6 267.5,763.4 269.0,764.2 270.5,764.8 272.0,765.2 273.5,765.4 275.0,765.5 276.5,765.4 278.0,765.3 279.5,765.0 281.0,764.6 282.5,764.1 284.0,763.5 285.5,762.7 287.0,761.6 288.5,760.3 290.0,759.0 291.5,757.4 293.0,755.9 294.5,754.2 296.0,752.4 297.5,750.3 299.0,748.0 300.5,745.6 302.0,743.0 303.5,740.4 305.0,737.6 306.5,734.7 308.0,731.7 309.5,728.5 311.0,725.3 312.5,721.9 314.0,718.6 315.5,715.4 317.0,712.2 318.5,709.1 320.0,706.1 321.5,703.1 323.0,700.2 324.5,697.3 326.0,694.4 327.5,691.6 329.0,688.7 330.5,686.0 332.0,683.5 333.5,681.2 335.0,679.2 336.5,677.4 338.0,675.9 339.5,674.6 341.0,673.4 342.5,672.2 344.0,671.1 345.5,669.9 347.0,668.5 348.5,667.0 350.0,665.5 351.5,663.8 353.0,662.2 354.5,660.5 356.0,658.7 357.5,657.0 359.0,655.3 360.5,653.6 362.0,651.8 363.5,650.0 365.0,648.2 366.5,646.4 368.0,644.7 369.5,643.0 371.0,641.3 372.5,639.8 374.0,638.4 375.5,637.1 377.0,635.8 378.5,634.6 380.0,633.4 381.5,632.3 383.0,631.2 384.5,630.1 386.0,629.1 387.5,628.0 389.0,627.0 390.5,626.2 392.0,625.6 393.5,625.1 395.0,624.8 396.5,624.5 398.0,624.3 399.5,624.3 401.0,624.4 402.5,624.6 404.0,624.9 405.5,625.3 407.0,625.7 408.5,626.2 410.0,626.6 411.5,627.2 413.0,627.8 414.5,628.5 416.0,629.2 417.5,630.0 419.0,630.8 420.5,631.7 422.0,632.6 423.5,633.5 425.0,634.4 426.5,635.3 428.0,636.2 429.5,637.1 431.0,637.9 432.5,638.8 434.0,639.7 435.5,640.6 437.0,641.4 438.5,642.3 440.0,643.2 441.5,644.0 443.0,644.9 444.5,645.7 446.0,646.5 447.5,647.3 449.0,648.1 450.5,648.8 452.0,649.6 453.5,650.3 455.0,651.1 456.5,651.8 458.0,652.5 459.5,653.2 461.0,653.9 462.5,654.5 464.0,655.2 465.5,655.9 467.0,656.5 468.5,657.2 470.0,657.8 471.5,658.4 473.0,659.1 474.5,659.7 476.0,660.3 477.5,661.0 479.0,661.6 480.5,662.2 482.0,662.9 483.5,663.5 485.0,664.2 486.5,664.9 488.0,665.5 489.5,666.2 491.0,666.9 492.5,667.6 494.0,668.3 495.5,668.9 497.0,669.5 498.5,670.1 500.0,670.7 501.5,671.3 503.0,671.8 504.5,672.3 506.0,672.7 507.5,673.1 509.0,673.4 510.5,673.7 512.0,673.9 513.5,674.0 515.0,674.0 516.5,674.0 518.0,674.0 519.5,674.0 521.0,673.9 522.5,673.9 524.0,673.8 525.5,673.8 527.0,673.8 528.5,673.9 530.0,674.1 531.5,674.3 533.0,674.6 534.5,674.9 536.0,675.3 537.5,675.7 539.0,676.1 540.5,676.6 542.0,677.1 543.5,677.6 545.0,678.1 546.5,678.6 548.0,679.1 549.5,679.6 551.0,680.0 552.5,680.5 554.0,680.9 555.5,681.3 557.0,681.7 558.5,682.1 560.0,682.5 561.5,682.9 563.0,683.2 564.5,683.6 566.0,684.0 567.5,684.4 569.0,684.7 570.5,685.1 572.0,685.4 573.5,685.8 575.0,686.1 576.5,686.4 578.0,686.6 579.5,686.9 581.0,687.1 582.5,687.3 584.0,687.5 585.5,687.7 587.0,687.8 588.5,687.9 590.0,688.1 591.5,688.2 593.0,688.3 594.5,688.4 596.0,688.5 597.5,688.5 599.0,688.6 600.5,688.7 602.0,688.7 603.5,688.7 605.0,688.8 606.5,688.8 608.0,688.8 609.5,688.8 611.0,688.8 612.5,688.8 614.0,688.7 615.5,688.7 617.0,688.6 618.5,688.6 620.0,688.5" fill="none" stroke="#000" stroke-width="4.6" stroke-linecap="butt" stroke-linejoin="round" clip-path="url(#c2)"/><path d="M53.0,823.6 54.5,823.6 56.0,823.5 57.5,823.5 59.0,823.4 60.5,823.4 62.0,823.3 63.5,823.3 65.0,823.2 66.5,823.1 68.0,823.0 69.5,823.0 71.0,822.9 72.5,822.8 74.0,822.7 75.5,822.6 77.0,822.5 78.5,822.4 80.0,822.3 81.5,822.2 83.0,822.1 84.5,822.0 86.0,821.9 87.5,821.9 89.0,821.8 90.5,821.6 92.0,821.5 93.5,821.4 95.0,821.3 96.5,821.2 98.0,821.0 99.5,820.9 101.0,820.8 102.5,820.6 104.0,820.5 105.5,820.3 107.0,820.2 108.5,820.0 110.0,819.8 111.5,819.7 113.0,819.5 114.5,819.3 116.0,819.2 117.5,819.0 119.0,818.8 120.5,818.7 122.0,818.5 123.5,818.3 125.0,818.1 126.5,818.0 128.0,817.8 129.5,817.6 131.0,817.3 132.5,817.1 134.0,816.9 135.5,816.6 137.0,816.4 138.5,816.1 140.0,815.8 141.5,815.5 143.0,815.2 144.5,814.8 146.0,814.4 147.5,814.0 149.0,813.5 150.5,813.0 152.0,812.5 153.5,812.1 155.0,811.5 156.5,811.0 158.0,810.4 159.5,809.8 161.0,809.2 162.5,808.5 164.0,807.7 165.5,806.7 167.0,805.6 168.5,804.5 170.0,803.2 171.5,801.9 173.0,800.6 174.5,799.2 176.0,797.7 177.5,796.0 179.0,794.1 180.5,792.1 182.0,789.8 183.5,786.9 185.0,783.2 186.5,778.8 188.0,773.8 189.5,768.3 191.0,762.1 192.5,755.0 194.0,746.9 195.5,738.0 197.0,728.4 198.5,718.5 200.0,706.8 201.5,689.4 203.0,667.9 204.5,650.8 206.0,638.4 207.5,628.3 209.0,619.7 210.5,611.8 212.0,604.4 213.5,598.0 215.0,593.5 216.5,590.8 218.0,589.9 219.5,590.6 221.0,593.3 222.5,597.7 224.0,604.1 225.5,612.9 227.0,623.8 228.5,635.1 230.0,645.4 231.5,654.7 233.0,663.9 234.5,673.8 236.0,684.9 237.5,696.9 239.0,709.4 240.5,722.1 242.0,733.3 243.5,741.6 245.0,747.3 246.5,752.0 248.0,756.0 249.5,759.6 251.0,762.8 252.5,765.9 254.0,768.9 255.5,771.9 257.0,775.0 258.5,778.0 260.0,780.6 261.5,782.7 263.0,784.2 264.5,785.4 266.0,786.4 267.5,787.2 269.0,787.7 270.5,788.0 272.0,788.0 273.5,788.0 275.0,787.7 276.5,787.4 278.0,786.9 279.5,786.3 281.0,785.7 282.5,784.8 284.0,783.9 285.5,782.8 287.0,781.7 288.5,780.4 290.0,779.1 291.5,777.8 293.0,776.5 294.5,775.1 296.0,773.8 297.5,772.5 299.0,771.1 300.5,769.7 302.0,768.2 303.5,766.6 305.0,764.9 306.5,763.2 308.0,761.2 309.5,759.0 311.0,756.5 312.5,753.8 314.0,750.9 315.5,747.9 317.0,744.7 318.5,741.5 320.0,738.2 321.5,734.6 323.0,730.7 324.5,726.6 326.0,722.6 327.5,718.6 329.0,715.1 330.5,711.9 332.0,709.1 333.5,706.5 335.0,704.1 336.5,702.0 338.0,700.2 339.5,698.5 341.0,697.1 342.5,695.8 344.0,694.6 345.5,693.4 347.0,692.2 348.5,691.0 350.0,689.6 351.5,688.2 353.0,686.6 354.5,684.9 356.0,683.3 357.5,681.5 359.0,679.8 360.5,678.1 362.0,676.3 363.5,674.6 365.0,672.9 366.5,671.2 368.0,669.5 369.5,667.7 371.0,666.0 372.5,664.3 374.0,662.7 375.5,661.0 377.0,659.4 378.5,657.7 380.0,656.1 381.5,654.6 383.0,653.3 384.5,652.3 386.0,651.6 387.5,651.2 389.0,651.2 390.5,651.5 392.0,652.1 393.5,652.8 395.0,653.8 396.5,654.9 398.0,656.1 399.5,657.4 401.0,658.8 402.5,660.2 404.0,661.6 405.5,662.9 407.0,664.0 408.5,664.8 410.0,665.4 411.5,665.8 413.0,666.2 414.5,666.4 416.0,666.5 417.5,666.4 419.0,666.2 420.5,665.8 422.0,665.3 423.5,664.8 425.0,664.4 426.5,663.9 428.0,663.4 429.5,662.8 431.0,662.2 432.5,661.5 434.0,660.8 435.5,660.0 437.0,659.2 438.5,658.5 440.0,657.9 441.5,657.4 443.0,657.0 444.5,656.6 446.0,656.2 447.5,655.9 449.0,655.6 450.5,655.5 452.0,655.3 453.5,655.3 455.0,655.2 456.5,655.2 458.0,655.2 459.5,655.2 461.0,655.2 462.5,655.2 464.0,655.3 465.5,655.3 467.0,655.4 468.5,655.4 470.0,655.5 471.5,655.6 473.0,655.7 474.5,655.9 476.0,656.0 477.5,656.1 479.0,656.3 480.5,656.5 482.0,656.8 483.5,657.3 485.0,657.8 486.5,658.5 488.0,659.2 489.5,660.1 491.0,660.9 492.5,661.9 494.0,662.9 495.5,663.9 497.0,664.9 498.5,666.0 500.0,667.1 501.5,668.2 503.0,669.3 504.5,670.4 506.0,671.5 507.5,672.6 509.0,673.6 510.5,674.6 512.0,675.7 513.5,676.8 515.0,677.8 516.5,678.9 518.0,680.0 519.5,681.1 521.0,682.2 522.5,683.2 524.0,684.3 525.5,685.4 527.0,686.4 528.5,687.4 530.0,688.4 531.5,689.4 533.0,690.3 534.5,691.3 536.0,692.2 537.5,693.1 539.0,694.0 540.5,695.0 542.0,695.8 543.5,696.7 545.0,697.6 546.5,698.4 548.0,699.2 549.5,700.0 551.0,700.8 552.5,701.5 554.0,702.2 555.5,702.9 557.0,703.5 558.5,704.1 560.0,704.8 561.5,705.4 563.0,706.0 564.5,706.6 566.0,707.2 567.5,707.8 569.0,708.4 570.5,708.9 572.0,709.5 573.5,710.0 575.0,710.4 576.5,710.9 578.0,711.3 579.5,711.6 581.0,712.0 582.5,712.2 584.0,712.5 585.5,712.7 587.0,712.9 588.5,713.1 590.0,713.2 591.5,713.3 593.0,713.4 594.5,713.5 596.0,713.6 597.5,713.7 599.0,713.7 600.5,713.7 602.0,713.7 603.5,713.7 605.0,713.7 606.5,713.6 608.0,713.6 609.5,713.5 611.0,713.4 612.5,713.3 614.0,713.1 615.5,713.0 617.0,712.8 618.5,712.7 620.0,712.6" fill="none" stroke="#ff0000" stroke-width="4.6" stroke-linecap="butt" stroke-linejoin="round" clip-path="url(#c2)"/><path d="M53.0,821.8 54.5,821.7 56.0,821.7 57.5,821.6 59.0,821.5 60.5,821.4 62.0,821.4 63.5,821.3 65.0,821.2 66.5,821.1 68.0,820.9 69.5,820.8 71.0,820.7 72.5,820.6 74.0,820.5 75.5,820.3 77.0,820.2 78.5,820.1 80.0,819.9 81.5,819.8 83.0,819.7 84.5,819.5 86.0,819.4 87.5,819.3 89.0,819.1 90.5,819.0 92.0,818.8 93.5,818.7 95.0,818.5 96.5,818.4 98.0,818.2 99.5,818.0 101.0,817.8 102.5,817.6 104.0,817.4 105.5,817.2 107.0,817.0 108.5,816.8 110.0,816.6 111.5,816.4 113.0,816.2 114.5,816.0 116.0,815.8 117.5,815.6 119.0,815.4 120.5,815.2 122.0,814.9 123.5,814.7 125.0,814.5 126.5,814.3 128.0,814.0 129.5,813.8 131.0,813.5 132.5,813.2 134.0,812.9 135.5,812.6 137.0,812.2 138.5,811.9 140.0,811.5 141.5,811.1 143.0,810.6 144.5,810.1 146.0,809.4 147.5,808.6 149.0,807.8 150.5,806.9 152.0,805.9 153.5,804.8 155.0,803.6 156.5,802.4 158.0,801.2 159.5,800.1 161.0,798.8 162.5,797.3 164.0,795.4 165.5,792.8 167.0,789.9 168.5,786.7 170.0,783.2 171.5,779.3 173.0,774.7 174.5,769.3 176.0,763.1 177.5,756.6 179.0,749.9 180.5,742.5 182.0,734.1 183.5,724.4 185.0,714.3 186.5,703.6 188.0,690.8 189.5,677.3 191.0,665.8 192.5,656.2 194.0,647.8 195.5,640.2 197.0,633.2 198.5,626.5 200.0,620.3 201.5,614.8 203.0,610.1 204.5,606.1 206.0,602.5 207.5,599.5 209.0,596.9 210.5,594.8 212.0,593.0 213.5,591.6 215.0,590.5 216.5,589.9 218.0,589.8 219.5,590.8 221.0,593.0 222.5,596.6 224.0,601.2 225.5,607.1 227.0,614.9 228.5,624.4 230.0,634.5 231.5,644.2 233.0,653.5 234.5,662.7 236.0,672.2 237.5,681.8 239.0,691.6 240.5,701.0 242.0,710.1 243.5,720.1 245.0,731.6 246.5,741.5 248.0,748.0 249.5,752.6 251.0,756.3 252.5,759.3 254.0,762.2 255.5,765.0 257.0,767.6 258.5,769.9 260.0,771.6 261.5,772.8 263.0,773.8 264.5,774.5 266.0,775.0 267.5,775.1 269.0,775.1 270.5,774.8 272.0,774.4 273.5,773.8 275.0,773.0 276.5,772.1 278.0,771.1 279.5,770.0 281.0,768.9 282.5,767.7 284.0,766.3 285.5,764.9 287.0,763.5 288.5,762.0 290.0,760.4 291.5,758.8 293.0,757.1 294.5,755.2 296.0,753.2 297.5,751.1 299.0,749.0 300.5,746.7 302.0,744.4 303.5,742.1 305.0,739.8 306.5,737.3 308.0,734.6 309.5,731.7 311.0,728.5 312.5,724.8 314.0,720.4 315.5,714.9 317.0,708.6 318.5,702.6 320.0,697.2 321.5,692.3 323.0,687.7 324.5,683.2 326.0,678.9 327.5,674.9 329.0,671.1 330.5,667.6 332.0,664.5 333.5,661.7 335.0,659.0 336.5,656.5 338.0,654.1 339.5,651.7 341.0,649.4 342.5,647.1 344.0,644.7 345.5,642.3 347.0,639.9 348.5,637.5 350.0,635.0 351.5,632.6 353.0,630.2 354.5,627.8 356.0,625.4 357.5,623.0 359.0,620.6 360.5,618.2 362.0,615.8 363.5,613.4 365.0,611.0 366.5,608.7 368.0,606.3 369.5,604.0 371.0,601.8 372.5,599.5 374.0,597.2 375.5,595.0 377.0,593.1 378.5,591.7 380.0,590.6 381.5,589.9 383.0,589.6 384.5,589.6 386.0,590.0 387.5,590.7 389.0,591.6 390.5,592.7 392.0,594.0 393.5,595.3 395.0,596.6 396.5,597.9 398.0,599.2 399.5,600.3 401.0,601.4 402.5,602.2 404.0,602.9 405.5,603.5 407.0,604.0 408.5,604.3 410.0,604.4 411.5,604.3 413.0,604.0 414.5,603.6 416.0,603.1 417.5,602.5 419.0,601.9 420.5,601.3 422.0,600.6 423.5,600.0 425.0,599.4 426.5,598.7 428.0,597.9 429.5,597.2 431.0,596.5 432.5,595.8 434.0,595.3 435.5,594.9 437.0,594.6 438.5,594.3 440.0,594.2 441.5,594.0 443.0,593.9 444.5,593.8 446.0,593.8 447.5,593.8 449.0,593.8 450.5,593.8 452.0,593.9 453.5,594.0 455.0,594.1 456.5,594.3 458.0,594.4 459.5,594.6 461.0,594.7 462.5,594.9 464.0,595.1 465.5,595.3 467.0,595.4 468.5,595.6 470.0,595.8 471.5,596.0 473.0,596.2 474.5,596.4 476.0,596.7 477.5,597.0 479.0,597.3 480.5,597.8 482.0,598.5 483.5,599.4 485.0,600.6 486.5,602.0 488.0,603.4 489.5,604.8 491.0,606.2 492.5,607.6 494.0,609.0 495.5,610.5 497.0,612.0 498.5,613.5 500.0,615.1 501.5,616.6 503.0,618.2 504.5,619.7 506.0,621.3 507.5,622.8 509.0,624.3 510.5,625.9 512.0,627.4 513.5,629.0 515.0,630.7 516.5,632.3 518.0,633.9 519.5,635.6 521.0,637.2 522.5,638.7 524.0,640.3 525.5,641.8 527.0,643.2 528.5,644.5 530.0,645.8 531.5,647.0 533.0,648.1 534.5,649.1 536.0,650.1 537.5,651.1 539.0,652.0 540.5,653.0 542.0,653.8 543.5,654.7 545.0,655.5 546.5,656.3 548.0,657.1 549.5,657.8 551.0,658.6 552.5,659.3 554.0,659.9 555.5,660.6 557.0,661.2 558.5,661.8 560.0,662.4 561.5,663.0 563.0,663.6 564.5,664.2 566.0,664.7 567.5,665.3 569.0,665.9 570.5,666.4 572.0,667.0 573.5,667.5 575.0,668.0 576.5,668.4 578.0,668.9 579.5,669.2 581.0,669.6 582.5,669.9 584.0,670.1 585.5,670.3 587.0,670.4 588.5,670.6 590.0,670.7 591.5,670.7 593.0,670.8 594.5,670.8 596.0,670.8 597.5,670.8 599.0,670.8 600.5,670.7 602.0,670.6 603.5,670.5 605.0,670.4 606.5,670.3 608.0,670.2 609.5,670.0 611.0,669.8 612.5,669.6 614.0,669.4 615.5,669.2 617.0,669.0 618.5,668.8 620.0,668.6" fill="none" stroke="#ffa500" stroke-width="3.0" stroke-linecap="butt" stroke-linejoin="round" clip-path="url(#c2)"/><path d="M53.0,1115.0 54.5,1114.9 56.0,1114.9 57.5,1114.8 59.0,1114.7 60.5,1114.6 62.0,1114.5 63.5,1114.5 65.0,1114.4 66.5,1114.3 68.0,1114.2 69.5,1114.1 71.0,1114.0 72.5,1114.0 74.0,1113.9 75.5,1113.8 77.0,1113.7 78.5,1113.6 80.0,1113.5 81.5,1113.4 83.0,1113.3 84.5,1113.2 86.0,1113.1 87.5,1113.0 89.0,1112.9 90.5,1112.8 92.0,1112.7 93.5,1112.6 95.0,1112.5 96.5,1112.4 98.0,1112.3 99.5,1112.2 101.0,1112.1 102.5,1112.0 104.0,1111.9 105.5,1111.8 107.0,1111.7 108.5,1111.6 110.0,1111.5 111.5,1111.4 113.0,1111.3 114.5,1111.2 116.0,1111.1 117.5,1111.0 119.0,1110.9 120.5,1110.8 122.0,1110.7 123.5,1110.5 125.0,1110.4 126.5,1110.3 128.0,1110.2 129.5,1110.1 131.0,1109.9 132.5,1109.8 134.0,1109.7 135.5,1109.5 137.0,1109.4 138.5,1109.3 140.0,1109.1 141.5,1109.0 143.0,1108.9 144.5,1108.7 146.0,1108.6 147.5,1108.4 149.0,1108.3 150.5,1108.1 152.0,1108.0 153.5,1107.8 155.0,1107.6 156.5,1107.4 158.0,1107.2 159.5,1106.9 161.0,1106.7 162.5,1106.4 164.0,1106.1 165.5,1105.9 167.0,1105.6 168.5,1105.2 170.0,1104.8 171.5,1104.2 173.0,1103.7 174.5,1103.0 176.0,1102.4 177.5,1101.7 179.0,1100.9 180.5,1100.2 182.0,1099.4 183.5,1098.3 185.0,1096.9 186.5,1095.1 188.0,1093.0 189.5,1090.6 191.0,1087.8 192.5,1084.3 194.0,1080.0 195.5,1075.3 197.0,1070.1 198.5,1064.5 200.0,1058.5 201.5,1052.6 203.0,1046.5 204.5,1037.9 206.0,1024.5 207.5,1008.3 209.0,992.6 210.5,977.9 212.0,963.7 213.5,949.5 215.0,934.8 216.5,919.7 218.0,905.6 219.5,894.3 221.0,886.8 222.5,882.2 224.0,879.3 225.5,877.9 227.0,877.7 228.5,878.9 230.0,881.4 231.5,885.4 233.0,891.3 234.5,900.2 236.0,911.6 237.5,923.5 239.0,934.5 240.5,945.0 242.0,954.9 243.5,963.5 245.0,970.0 246.5,973.8 248.0,975.7 249.5,976.2 251.0,975.6 252.5,974.0 254.0,971.6 255.5,969.1 257.0,966.9 258.5,964.9 260.0,963.1 261.5,961.6 263.0,960.3 264.5,959.3 266.0,958.6 267.5,958.1 269.0,957.9 270.5,958.1 272.0,958.5 273.5,959.0 275.0,959.7 276.5,960.4 278.0,961.1 279.5,961.8 281.0,962.4 282.5,963.0 284.0,963.6 285.5,964.2 287.0,964.7 288.5,965.1 290.0,965.4 291.5,965.6 293.0,965.7 294.5,965.8 296.0,965.9 297.5,965.9 299.0,965.9 300.5,965.8 302.0,965.7 303.5,965.6 305.0,965.5 306.5,965.3 308.0,965.1 309.5,964.8 311.0,964.4 312.5,964.0 314.0,963.6 315.5,963.1 317.0,962.6 318.5,962.0 320.0,961.2 321.5,960.3 323.0,959.2 324.5,958.1 326.0,956.9 327.5,955.6 329.0,954.3 330.5,952.9 332.0,951.4 333.5,949.7 335.0,948.1 336.5,946.3 338.0,944.5 339.5,942.8 341.0,941.0 342.5,939.2 344.0,937.3 345.5,935.3 347.0,933.3 348.5,931.5 350.0,929.7 351.5,928.1 353.0,926.7 354.5,925.5 356.0,924.5 357.5,923.4 359.0,922.5 360.5,921.7 362.0,920.9 363.5,920.3 365.0,919.8 366.5,919.5 368.0,919.3 369.5,919.2 371.0,919.2 372.5,919.2 374.0,919.3 375.5,919.4 377.0,919.6 378.5,919.9 380.0,920.2 381.5,920.6 383.0,921.1 384.5,921.7 386.0,922.3 387.5,923.0 389.0,923.7 390.5,924.4 392.0,925.2 393.5,926.1 395.0,927.0 396.5,928.0 398.0,929.0 399.5,930.0 401.0,931.0 402.5,932.0 404.0,933.0 405.5,934.0 407.0,935.0 408.5,936.0 410.0,936.9 411.5,937.9 413.0,938.9 414.5,939.8 416.0,940.8 417.5,941.8 419.0,942.7 420.5,943.7 422.0,944.7 423.5,945.7 425.0,946.7 426.5,947.7 428.0,948.7 429.5,949.7 431.0,950.7 432.5,951.7 434.0,952.6 435.5,953.5 437.0,954.4 438.5,955.3 440.0,956.1 441.5,957.0 443.0,957.8 444.5,958.6 446.0,959.4 447.5,960.2 449.0,961.0 450.5,961.7 452.0,962.4 453.5,963.0 455.0,963.7 456.5,964.3 458.0,964.8 459.5,965.4 461.0,965.9 462.5,966.4 464.0,966.9 465.5,967.4 467.0,967.8 468.5,968.3 470.0,968.7 471.5,969.1 473.0,969.5 474.5,969.9 476.0,970.2 477.5,970.6 479.0,970.9 480.5,971.2 482.0,971.6 483.5,971.9 485.0,972.2 486.5,972.5 488.0,972.8 489.5,973.1 491.0,973.4 492.5,973.7 494.0,974.0 495.5,974.2 497.0,974.5 498.5,974.8 500.0,975.1 501.5,975.4 503.0,975.7 504.5,976.1 506.0,976.4 507.5,976.8 509.0,977.2 510.5,977.5 512.0,977.8 513.5,978.1 515.0,978.3 516.5,978.5 518.0,978.7 519.5,978.8 521.0,978.8 522.5,978.8 524.0,978.8 525.5,978.8 527.0,978.8 528.5,978.8 530.0,978.8 531.5,978.8 533.0,978.8 534.5,978.8 536.0,978.8 537.5,978.8 539.0,978.8 540.5,978.8 542.0,978.8 543.5,978.8 545.0,978.8 546.5,978.8 548.0,978.8 549.5,978.8 551.0,978.8 552.5,978.8 554.0,978.8 555.5,978.8 557.0,978.8 558.5,978.8 560.0,978.8 561.5,978.8 563.0,978.8 564.5,978.8 566.0,978.8 567.5,978.8 569.0,978.8 570.5,978.8 572.0,978.8 573.5,978.8 575.0,978.8 576.5,978.8 578.0,978.8 579.5,978.8 581.0,978.8 582.5,978.8 584.0,978.8 585.5,978.8 587.0,978.8 588.5,978.8 590.0,978.8 591.5,978.8 593.0,978.8 594.5,978.8 596.0,978.8 597.5,978.8 599.0,978.8 600.5,978.8 602.0,978.8 603.5,978.8 605.0,978.8 606.5,978.8 608.0,978.8 609.5,978.8 611.0,978.8 612.5,978.8 614.0,978.8 615.5,978.8 617.0,978.8 618.5,978.8 620.0,978.8" fill="none" stroke="#000" stroke-width="4.6" stroke-linecap="butt" stroke-linejoin="round" clip-path="url(#c3)"/><path d="M53.0,1113.0 54.5,1113.0 56.0,1113.0 57.5,1112.9 59.0,1112.9 60.5,1112.9 62.0,1112.8 63.5,1112.8 65.0,1112.7 66.5,1112.7 68.0,1112.6 69.5,1112.6 71.0,1112.5 72.5,1112.4 74.0,1112.4 75.5,1112.3 77.0,1112.2 78.5,1112.1 80.0,1112.0 81.5,1112.0 83.0,1111.9 84.5,1111.8 86.0,1111.7 87.5,1111.6 89.0,1111.5 90.5,1111.4 92.0,1111.3 93.5,1111.1 95.0,1111.0 96.5,1110.9 98.0,1110.8 99.5,1110.7 101.0,1110.6 102.5,1110.4 104.0,1110.3 105.5,1110.2 107.0,1110.0 108.5,1109.9 110.0,1109.8 111.5,1109.6 113.0,1109.5 114.5,1109.4 116.0,1109.2 117.5,1109.1 119.0,1108.9 120.5,1108.7 122.0,1108.6 123.5,1108.4 125.0,1108.2 126.5,1108.0 128.0,1107.7 129.5,1107.5 131.0,1107.3 132.5,1107.0 134.0,1106.8 135.5,1106.6 137.0,1106.3 138.5,1106.1 140.0,1105.8 141.5,1105.6 143.0,1105.3 144.5,1105.1 146.0,1104.8 147.5,1104.6 149.0,1104.4 150.5,1104.1 152.0,1103.9 153.5,1103.7 155.0,1103.5 156.5,1103.3 158.0,1103.1 159.5,1102.8 161.0,1102.6 162.5,1102.4 164.0,1102.1 165.5,1101.9 167.0,1101.6 168.5,1101.2 170.0,1100.7 171.5,1100.1 173.0,1099.4 174.5,1098.7 176.0,1097.9 177.5,1097.1 179.0,1096.3 180.5,1095.5 182.0,1094.6 183.5,1093.6 185.0,1092.4 186.5,1091.0 188.0,1089.4 189.5,1087.6 191.0,1085.7 192.5,1083.5 194.0,1080.8 195.5,1077.5 197.0,1073.6 198.5,1069.3 200.0,1064.3 201.5,1058.7 203.0,1052.9 204.5,1047.0 206.0,1039.2 207.5,1027.6 209.0,1012.9 210.5,997.5 212.0,982.2 213.5,967.1 215.0,952.1 216.5,936.9 218.0,921.5 219.5,907.0 221.0,895.2 222.5,887.1 224.0,882.1 225.5,879.3 227.0,878.2 228.5,878.9 230.0,881.2 231.5,885.0 233.0,890.4 234.5,898.0 236.0,907.9 237.5,919.1 239.0,929.8 240.5,939.4 242.0,948.0 243.5,955.9 245.0,962.7 246.5,968.4 248.0,973.3 249.5,977.3 251.0,980.3 252.5,982.0 254.0,983.1 255.5,983.8 257.0,984.2 258.5,984.1 260.0,983.7 261.5,983.2 263.0,982.4 264.5,981.6 266.0,980.5 267.5,979.4 269.0,978.1 270.5,976.7 272.0,975.3 273.5,974.0 275.0,973.0 276.5,972.2 278.0,971.7 279.5,971.3 281.0,971.1 282.5,971.2 284.0,971.5 285.5,972.1 287.0,973.0 288.5,974.0 290.0,975.3 291.5,976.7 293.0,978.1 294.5,979.6 296.0,980.9 297.5,982.2 299.0,983.2 300.5,983.9 302.0,984.0 303.5,983.6 305.0,982.7 306.5,981.5 308.0,980.1 309.5,978.4 311.0,976.3 312.5,973.9 314.0,971.1 315.5,967.9 317.0,964.3 318.5,960.7 320.0,957.2 321.5,953.9 323.0,950.9 324.5,947.9 326.0,945.1 327.5,942.3 329.0,939.8 330.5,937.6 332.0,935.5 333.5,933.6 335.0,931.7 336.5,930.0 338.0,928.3 339.5,926.9 341.0,925.7 342.5,924.7 344.0,923.9 345.5,923.3 347.0,922.7 348.5,922.2 350.0,921.7 351.5,921.3 353.0,921.0 354.5,920.7 356.0,920.5 357.5,920.3 359.0,920.2 360.5,920.1 362.0,920.0 363.5,919.9 365.0,919.8 366.5,919.7 368.0,919.5 369.5,919.3 371.0,919.1 372.5,918.8 374.0,918.4 375.5,918.1 377.0,917.9 378.5,917.8 380.0,917.8 381.5,917.8 383.0,917.8 384.5,917.9 386.0,918.1 387.5,918.3 389.0,918.6 390.5,919.0 392.0,919.4 393.5,920.1 395.0,920.8 396.5,921.7 398.0,922.8 399.5,924.0 401.0,925.5 402.5,927.2 404.0,929.0 405.5,930.9 407.0,932.8 408.5,934.9 410.0,937.1 411.5,939.3 413.0,941.7 414.5,944.0 416.0,946.4 417.5,948.6 419.0,950.8 420.5,952.9 422.0,955.1 423.5,957.2 425.0,959.2 426.5,961.2 428.0,963.0 429.5,964.8 431.0,966.5 432.5,968.0 434.0,969.6 435.5,971.1 437.0,972.5 438.5,973.7 440.0,974.9 441.5,975.9 443.0,976.9 444.5,977.8 446.0,978.6 447.5,979.5 449.0,980.2 450.5,981.0 452.0,981.7 453.5,982.4 455.0,983.0 456.5,983.6 458.0,984.1 459.5,984.6 461.0,985.1 462.5,985.6 464.0,986.1 465.5,986.5 467.0,987.0 468.5,987.4 470.0,987.9 471.5,988.3 473.0,988.7 474.5,989.1 476.0,989.5 477.5,989.9 479.0,990.3 480.5,990.7 482.0,991.0 483.5,991.4 485.0,991.8 486.5,992.1 488.0,992.5 489.5,992.9 491.0,993.2 492.5,993.6 494.0,993.9 495.5,994.3 497.0,994.7 498.5,995.0 500.0,995.4 501.5,995.8 503.0,996.3 504.5,996.7 506.0,997.2 507.5,997.7 509.0,998.2 510.5,998.7 512.0,999.2 513.5,999.6 515.0,999.9 516.5,1000.2 518.0,1000.4 519.5,1000.5 521.0,1000.6 522.5,1000.6 524.0,1000.6 525.5,1000.6 527.0,1000.5 528.5,1000.5 530.0,1000.5 531.5,1000.4 533.0,1000.4 534.5,1000.3 536.0,1000.3 537.5,1000.2 539.0,1000.2 540.5,1000.1 542.0,1000.0 543.5,1000.0 545.0,999.9 546.5,999.9 548.0,999.8 549.5,999.7 551.0,999.7 552.5,999.6 554.0,999.6 555.5,999.5 557.0,999.4 558.5,999.4 560.0,999.3 561.5,999.3 563.0,999.2 564.5,999.2 566.0,999.1 567.5,999.1 569.0,999.0 570.5,998.9 572.0,998.9 573.5,998.8 575.0,998.8 576.5,998.7 578.0,998.7 579.5,998.6 581.0,998.6 582.5,998.5 584.0,998.5 585.5,998.4 587.0,998.4 588.5,998.3 590.0,998.3 591.5,998.3 593.0,998.3 594.5,998.3 596.0,998.3 597.5,998.3 599.0,998.4 600.5,998.4 602.0,998.5 603.5,998.5 605.0,998.6 606.5,998.7 608.0,998.8 609.5,998.8 611.0,998.9 612.5,999.0 614.0,999.1 615.5,999.2 617.0,999.3 618.5,999.4 620.0,999.5" fill="none" stroke="#ff0000" stroke-width="4.6" stroke-linecap="butt" stroke-linejoin="round" clip-path="url(#c3)"/><path d="M53.0,1115.0 54.5,1115.0 56.0,1115.0 57.5,1115.0 59.0,1115.0 60.5,1114.9 62.0,1114.9 63.5,1114.9 65.0,1114.9 66.5,1114.8 68.0,1114.8 69.5,1114.8 71.0,1114.7 72.5,1114.7 74.0,1114.7 75.5,1114.6 77.0,1114.6 78.5,1114.5 80.0,1114.5 81.5,1114.4 83.0,1114.4 84.5,1114.3 86.0,1114.3 87.5,1114.2 89.0,1114.2 90.5,1114.1 92.0,1114.0 93.5,1114.0 95.0,1113.9 96.5,1113.9 98.0,1113.8 99.5,1113.7 101.0,1113.7 102.5,1113.6 104.0,1113.5 105.5,1113.4 107.0,1113.4 108.5,1113.3 110.0,1113.2 111.5,1113.1 113.0,1113.1 114.5,1113.0 116.0,1112.9 117.5,1112.8 119.0,1112.7 120.5,1112.7 122.0,1112.6 123.5,1112.5 125.0,1112.4 126.5,1112.3 128.0,1112.3 129.5,1112.2 131.0,1112.1 132.5,1112.0 134.0,1111.9 135.5,1111.8 137.0,1111.7 138.5,1111.7 140.0,1111.6 141.5,1111.5 143.0,1111.4 144.5,1111.3 146.0,1111.2 147.5,1111.1 149.0,1111.1 150.5,1111.0 152.0,1110.9 153.5,1110.8 155.0,1110.6 156.5,1110.5 158.0,1110.4 159.5,1110.2 161.0,1110.1 162.5,1109.9 164.0,1109.7 165.5,1109.6 167.0,1109.4 168.5,1109.2 170.0,1109.0 171.5,1108.8 173.0,1108.6 174.5,1108.4 176.0,1108.2 177.5,1108.0 179.0,1107.8 180.5,1107.6 182.0,1107.4 183.5,1107.2 185.0,1106.9 186.5,1106.6 188.0,1106.3 189.5,1106.0 191.0,1105.6 192.5,1105.2 194.0,1104.9 195.5,1104.5 197.0,1104.0 198.5,1103.4 200.0,1102.7 201.5,1101.7 203.0,1100.6 204.5,1099.3 206.0,1097.8 207.5,1095.8 209.0,1093.0 210.5,1089.6 212.0,1085.9 213.5,1081.9 215.0,1077.6 216.5,1072.9 218.0,1068.1 219.5,1063.8 221.0,1060.5 222.5,1058.1 224.0,1056.4 225.5,1055.3 227.0,1054.7 228.5,1054.6 230.0,1055.0 231.5,1055.8 233.0,1057.0 234.5,1058.6 236.0,1060.6 237.5,1062.9 239.0,1065.3 240.5,1067.8 242.0,1070.3 243.5,1072.9 245.0,1075.8 246.5,1078.6 248.0,1081.1 249.5,1082.5 251.0,1082.6 252.5,1081.5 254.0,1080.2 255.5,1079.4 257.0,1079.1 258.5,1079.0 260.0,1078.8 261.5,1078.7 263.0,1078.6 264.5,1078.5 266.0,1078.4 267.5,1078.3 269.0,1078.2 270.5,1078.1 272.0,1078.1 273.5,1078.0 275.0,1077.9 276.5,1077.8 278.0,1077.7 279.5,1077.6 281.0,1077.5 282.5,1077.4 284.0,1077.3 285.5,1077.2 287.0,1077.1 288.5,1077.0 290.0,1077.0 291.5,1076.9 293.0,1076.8 294.5,1076.7 296.0,1076.6 297.5,1076.5 299.0,1076.4 300.5,1076.3 302.0,1076.1 303.5,1076.0 305.0,1075.8 306.5,1075.5 308.0,1075.2 309.5,1074.9 311.0,1074.4 312.5,1074.0 314.0,1073.6 315.5,1073.1 317.0,1072.6 318.5,1072.2 320.0,1071.7 321.5,1071.3 323.0,1070.9 324.5,1070.6 326.0,1070.3 327.5,1070.1 329.0,1069.8 330.5,1069.6 332.0,1069.4 333.5,1069.2 335.0,1069.0 336.5,1068.8 338.0,1068.6 339.5,1068.4 341.0,1068.2 342.5,1068.1 344.0,1068.0 345.5,1067.9 347.0,1067.8 348.5,1067.7 350.0,1067.6 351.5,1067.6 353.0,1067.5 354.5,1067.5 356.0,1067.4 357.5,1067.4 359.0,1067.3 360.5,1067.3 362.0,1067.3 363.5,1067.2 365.0,1067.2 366.5,1067.2 368.0,1067.2 369.5,1067.1 371.0,1067.1 372.5,1067.1 374.0,1067.1 375.5,1067.0 377.0,1067.0 378.5,1067.0 380.0,1067.0 381.5,1067.0 383.0,1067.0 384.5,1067.0 386.0,1067.1 387.5,1067.1 389.0,1067.2 390.5,1067.2 392.0,1067.3 393.5,1067.4 395.0,1067.5 396.5,1067.7 398.0,1067.8 399.5,1068.0 401.0,1068.2 402.5,1068.6 404.0,1069.2 405.5,1069.9 407.0,1070.7 408.5,1071.6 410.0,1072.6 411.5,1073.5 413.0,1074.4 414.5,1075.3 416.0,1076.1 417.5,1076.8 419.0,1077.4 420.5,1078.0 422.0,1078.6 423.5,1079.2 425.0,1079.8 426.5,1080.4 428.0,1080.9 429.5,1081.5 431.0,1082.0 432.5,1082.5 434.0,1083.0 435.5,1083.5 437.0,1084.0 438.5,1084.4 440.0,1084.8 441.5,1085.1 443.0,1085.4 444.5,1085.6 446.0,1085.8 447.5,1086.0 449.0,1086.2 450.5,1086.3 452.0,1086.5 453.5,1086.6 455.0,1086.7 456.5,1086.9 458.0,1087.0 459.5,1087.2 461.0,1087.3 462.5,1087.4 464.0,1087.6 465.5,1087.7 467.0,1087.8 468.5,1087.9 470.0,1088.0 471.5,1088.1 473.0,1088.2 474.5,1088.3 476.0,1088.4 477.5,1088.5 479.0,1088.5 480.5,1088.6 482.0,1088.6 483.5,1088.7 485.0,1088.7 486.5,1088.8 488.0,1088.8 489.5,1088.8 491.0,1088.8 492.5,1088.8 494.0,1088.8 495.5,1088.8 497.0,1088.8 498.5,1088.9 500.0,1088.9 501.5,1088.9 503.0,1088.9 504.5,1088.9 506.0,1088.9 507.5,1088.9 509.0,1088.9 510.5,1088.9 512.0,1088.9 513.5,1088.9 515.0,1088.9 516.5,1088.9 518.0,1088.9 519.5,1088.9 521.0,1088.9 522.5,1088.8 524.0,1088.8 525.5,1088.8 527.0,1088.8 528.5,1088.7 530.0,1088.7 531.5,1088.7 533.0,1088.7 534.5,1088.6 536.0,1088.6 537.5,1088.6 539.0,1088.5 540.5,1088.5 542.0,1088.5 543.5,1088.4 545.0,1088.4 546.5,1088.4 548.0,1088.3 549.5,1088.3 551.0,1088.3 552.5,1088.2 554.0,1088.2 555.5,1088.1 557.0,1088.1 558.5,1088.1 560.0,1088.0 561.5,1088.0 563.0,1087.9 564.5,1087.9 566.0,1087.9 567.5,1087.8 569.0,1087.8 570.5,1087.7 572.0,1087.7 573.5,1087.6 575.0,1087.6 576.5,1087.6 578.0,1087.5 579.5,1087.5 581.0,1087.4 582.5,1087.4 584.0,1087.3 585.5,1087.3 587.0,1087.2 588.5,1087.2 590.0,1087.1 591.5,1087.0 593.0,1087.0 594.5,1086.9 596.0,1086.9 597.5,1086.8 599.0,1086.8 600.5,1086.7 602.0,1086.6 603.5,1086.6 605.0,1086.5 606.5,1086.5 608.0,1086.4 609.5,1086.3 611.0,1086.3 612.5,1086.2 614.0,1086.2 615.5,1086.1 617.0,1086.0 618.5,1086.0 620.0,1085.9" fill="none" stroke="#800080" stroke-width="4.6" stroke-dasharray="16.5 6.8" stroke-linecap="butt" stroke-linejoin="round" clip-path="url(#c3)"/><path d="M53.0,1114.0 54.5,1114.0 56.0,1113.9 57.5,1113.9 59.0,1113.8 60.5,1113.8 62.0,1113.7 63.5,1113.7 65.0,1113.6 66.5,1113.6 68.0,1113.5 69.5,1113.5 71.0,1113.4 72.5,1113.4 74.0,1113.3 75.5,1113.3 77.0,1113.2 78.5,1113.1 80.0,1113.1 81.5,1113.0 83.0,1113.0 84.5,1112.9 86.0,1112.8 87.5,1112.8 89.0,1112.7 90.5,1112.6 92.0,1112.6 93.5,1112.5 95.0,1112.4 96.5,1112.4 98.0,1112.3 99.5,1112.2 101.0,1112.2 102.5,1112.1 104.0,1112.0 105.5,1111.9 107.0,1111.9 108.5,1111.8 110.0,1111.7 111.5,1111.7 113.0,1111.6 114.5,1111.5 116.0,1111.4 117.5,1111.4 119.0,1111.3 120.5,1111.2 122.0,1111.1 123.5,1111.1 125.0,1111.0 126.5,1110.9 128.0,1110.8 129.5,1110.8 131.0,1110.7 132.5,1110.6 134.0,1110.6 135.5,1110.5 137.0,1110.4 138.5,1110.3 140.0,1110.3 141.5,1110.2 143.0,1110.1 144.5,1110.1 146.0,1110.0 147.5,1109.9 149.0,1109.8 150.5,1109.8 152.0,1109.7 153.5,1109.6 155.0,1109.5 156.5,1109.5 158.0,1109.4 159.5,1109.3 161.0,1109.2 162.5,1109.1 164.0,1109.0 165.5,1108.9 167.0,1108.8 168.5,1108.7 170.0,1108.5 171.5,1108.4 173.0,1108.3 174.5,1108.1 176.0,1107.9 177.5,1107.6 179.0,1107.1 180.5,1106.6 182.0,1106.1 183.5,1105.5 185.0,1104.9 186.5,1104.3 188.0,1103.7 189.5,1102.9 191.0,1102.0 192.5,1101.0 194.0,1099.9 195.5,1098.6 197.0,1097.1 198.5,1095.2 200.0,1092.8 201.5,1089.9 203.0,1086.8 204.5,1083.4 206.0,1079.6 207.5,1075.3 209.0,1070.7 210.5,1065.7 212.0,1060.5 213.5,1054.8 215.0,1048.0 216.5,1039.5 218.0,1029.1 219.5,1019.1 221.0,1011.4 222.5,1006.0 224.0,1002.1 225.5,999.1 227.0,997.3 228.5,997.4 230.0,999.1 231.5,1001.8 233.0,1005.2 234.5,1008.8 236.0,1012.6 237.5,1016.5 239.0,1020.7 240.5,1025.0 242.0,1029.3 243.5,1033.2 245.0,1036.6 246.5,1039.5 248.0,1042.2 249.5,1044.5 251.0,1046.6 252.5,1048.1 254.0,1049.0 255.5,1049.2 257.0,1049.0 258.5,1048.5 260.0,1048.0 261.5,1047.5 263.0,1046.9 264.5,1046.3 266.0,1045.7 267.5,1045.1 269.0,1044.4 270.5,1043.7 272.0,1043.0 273.5,1042.4 275.0,1041.9 276.5,1041.6 278.0,1041.6 279.5,1041.9 281.0,1042.6 282.5,1043.7 284.0,1045.0 285.5,1046.4 287.0,1047.9 288.5,1049.3 290.0,1050.5 291.5,1051.6 293.0,1052.6 294.5,1053.7 296.0,1054.7 297.5,1055.6 299.0,1056.4 300.5,1057.0 302.0,1057.3 303.5,1057.2 305.0,1056.8 306.5,1056.0 308.0,1054.9 309.5,1053.5 311.0,1051.9 312.5,1050.2 314.0,1048.6 315.5,1047.0 317.0,1045.5 318.5,1043.9 320.0,1042.3 321.5,1040.6 323.0,1038.9 324.5,1037.2 326.0,1035.5 327.5,1034.0 329.0,1032.6 330.5,1031.4 332.0,1030.4 333.5,1029.6 335.0,1028.8 336.5,1028.2 338.0,1027.5 339.5,1026.9 341.0,1026.4 342.5,1025.9 344.0,1025.4 345.5,1024.9 347.0,1024.4 348.5,1024.0 350.0,1023.5 351.5,1023.1 353.0,1022.6 354.5,1022.2 356.0,1021.7 357.5,1021.2 359.0,1020.7 360.5,1020.3 362.0,1019.8 363.5,1019.3 365.0,1018.8 366.5,1018.3 368.0,1017.9 369.5,1017.5 371.0,1017.1 372.5,1016.7 374.0,1016.3 375.5,1016.0 377.0,1015.7 378.5,1015.4 380.0,1015.1 381.5,1014.9 383.0,1014.7 384.5,1014.5 386.0,1014.3 387.5,1014.2 389.0,1014.1 390.5,1014.1 392.0,1014.2 393.5,1014.4 395.0,1014.7 396.5,1015.1 398.0,1015.5 399.5,1016.0 401.0,1016.7 402.5,1017.7 404.0,1018.8 405.5,1019.9 407.0,1021.0 408.5,1021.9 410.0,1022.7 411.5,1023.6 413.0,1024.4 414.5,1025.2 416.0,1026.1 417.5,1026.9 419.0,1027.9 420.5,1028.9 422.0,1030.0 423.5,1031.3 425.0,1032.6 426.5,1033.9 428.0,1035.3 429.5,1036.6 431.0,1037.9 432.5,1039.1 434.0,1040.1 435.5,1041.0 437.0,1041.8 438.5,1042.5 440.0,1043.2 441.5,1043.8 443.0,1044.5 444.5,1045.1 446.0,1045.7 447.5,1046.2 449.0,1046.8 450.5,1047.3 452.0,1047.8 453.5,1048.2 455.0,1048.6 456.5,1049.1 458.0,1049.4 459.5,1049.8 461.0,1050.1 462.5,1050.5 464.0,1050.8 465.5,1051.1 467.0,1051.5 468.5,1051.8 470.0,1052.1 471.5,1052.4 473.0,1052.7 474.5,1053.0 476.0,1053.3 477.5,1053.6 479.0,1053.9 480.5,1054.2 482.0,1054.4 483.5,1054.7 485.0,1054.9 486.5,1055.1 488.0,1055.3 489.5,1055.5 491.0,1055.7 492.5,1055.9 494.0,1056.0 495.5,1056.2 497.0,1056.4 498.5,1056.6 500.0,1056.8 501.5,1057.0 503.0,1057.2 504.5,1057.3 506.0,1057.5 507.5,1057.6 509.0,1057.8 510.5,1057.9 512.0,1058.0 513.5,1058.1 515.0,1058.2 516.5,1058.3 518.0,1058.3 519.5,1058.3 521.0,1058.3 522.5,1058.3 524.0,1058.2 525.5,1058.2 527.0,1058.1 528.5,1058.1 530.0,1058.0 531.5,1057.9 533.0,1057.8 534.5,1057.7 536.0,1057.6 537.5,1057.5 539.0,1057.4 540.5,1057.3 542.0,1057.2 543.5,1057.1 545.0,1057.0 546.5,1056.9 548.0,1056.8 549.5,1056.8 551.0,1056.7 552.5,1056.6 554.0,1056.5 555.5,1056.4 557.0,1056.4 558.5,1056.3 560.0,1056.2 561.5,1056.2 563.0,1056.1 564.5,1056.1 566.0,1056.1 567.5,1056.0 569.0,1056.0 570.5,1055.9 572.0,1055.9 573.5,1055.8 575.0,1055.8 576.5,1055.7 578.0,1055.7 579.5,1055.6 581.0,1055.6 582.5,1055.6 584.0,1055.5 585.5,1055.5 587.0,1055.4 588.5,1055.4 590.0,1055.3 591.5,1055.3 593.0,1055.3 594.5,1055.2 596.0,1055.2 597.5,1055.2 599.0,1055.1 600.5,1055.1 602.0,1055.1 603.5,1055.0 605.0,1055.0 606.5,1055.0 608.0,1054.9 609.5,1054.9 611.0,1054.9 612.5,1054.9 614.0,1054.9 615.5,1054.8 617.0,1054.8 618.5,1054.8 620.0,1054.8" fill="none" stroke="#0000ff" stroke-width="4.6" stroke-dasharray="16.5 6.8" stroke-linecap="butt" stroke-linejoin="round" clip-path="url(#c3)"/><path d="M53.0,1115.5 54.5,1115.5 56.0,1115.5 57.5,1115.5 59.0,1115.5 60.5,1115.5 62.0,1115.5 63.5,1115.4 65.0,1115.4 66.5,1115.4 68.0,1115.4 69.5,1115.4 71.0,1115.4 72.5,1115.3 74.0,1115.3 75.5,1115.3 77.0,1115.3 78.5,1115.2 80.0,1115.2 81.5,1115.2 83.0,1115.1 84.5,1115.1 86.0,1115.1 87.5,1115.0 89.0,1115.0 90.5,1114.9 92.0,1114.9 93.5,1114.9 95.0,1114.8 96.5,1114.8 98.0,1114.7 99.5,1114.7 101.0,1114.7 102.5,1114.6 104.0,1114.6 105.5,1114.5 107.0,1114.5 108.5,1114.4 110.0,1114.4 111.5,1114.3 113.0,1114.3 114.5,1114.2 116.0,1114.2 117.5,1114.1 119.0,1114.1 120.5,1114.0 122.0,1114.0 123.5,1113.9 125.0,1113.9 126.5,1113.8 128.0,1113.8 129.5,1113.7 131.0,1113.7 132.5,1113.6 134.0,1113.5 135.5,1113.5 137.0,1113.4 138.5,1113.4 140.0,1113.3 141.5,1113.3 143.0,1113.2 144.5,1113.2 146.0,1113.1 147.5,1113.1 149.0,1113.0 150.5,1113.0 152.0,1112.9 153.5,1112.9 155.0,1112.8 156.5,1112.7 158.0,1112.6 159.5,1112.5 161.0,1112.4 162.5,1112.3 164.0,1112.2 165.5,1112.1 167.0,1112.0 168.5,1111.8 170.0,1111.7 171.5,1111.6 173.0,1111.4 174.5,1111.3 176.0,1111.2 177.5,1111.0 179.0,1110.9 180.5,1110.7 182.0,1110.6 183.5,1110.4 185.0,1110.2 186.5,1109.9 188.0,1109.6 189.5,1109.2 191.0,1108.9 192.5,1108.5 194.0,1108.1 195.5,1107.7 197.0,1107.2 198.5,1106.8 200.0,1106.2 201.5,1105.5 203.0,1104.7 204.5,1103.7 206.0,1102.5 207.5,1101.1 209.0,1099.2 210.5,1096.6 212.0,1093.4 213.5,1089.7 215.0,1086.0 216.5,1082.3 218.0,1078.8 219.5,1075.3 221.0,1071.9 222.5,1068.6 224.0,1065.3 225.5,1062.2 227.0,1059.9 228.5,1058.6 230.0,1058.0 231.5,1058.0 233.0,1058.4 234.5,1059.2 236.0,1060.4 237.5,1062.0 239.0,1064.2 240.5,1066.7 242.0,1069.3 243.5,1071.8 245.0,1074.0 246.5,1076.0 248.0,1077.8 249.5,1079.5 251.0,1081.0 252.5,1082.1 254.0,1083.1 255.5,1083.9 257.0,1084.8 258.5,1085.5 260.0,1086.1 261.5,1086.6 263.0,1086.8 264.5,1086.9 266.0,1086.7 267.5,1086.4 269.0,1086.1 270.5,1085.7 272.0,1085.2 273.5,1084.7 275.0,1084.2 276.5,1083.7 278.0,1083.2 279.5,1082.7 281.0,1082.2 282.5,1081.9 284.0,1081.6 285.5,1081.3 287.0,1081.2 288.5,1081.0 290.0,1081.0 291.5,1080.9 293.0,1080.9 294.5,1080.9 296.0,1080.9 297.5,1080.9 299.0,1080.8 300.5,1080.8 302.0,1080.6 303.5,1080.5 305.0,1080.2 306.5,1079.9 308.0,1079.5 309.5,1079.0 311.0,1078.4 312.5,1077.8 314.0,1077.1 315.5,1076.3 317.0,1075.5 318.5,1074.7 320.0,1073.9 321.5,1073.1 323.0,1072.4 324.5,1071.6 326.0,1070.9 327.5,1070.2 329.0,1069.5 330.5,1068.7 332.0,1068.0 333.5,1067.2 335.0,1066.5 336.5,1065.7 338.0,1065.0 339.5,1064.3 341.0,1063.7 342.5,1063.1 344.0,1062.5 345.5,1062.0 347.0,1061.6 348.5,1061.3 350.0,1061.1 351.5,1060.9 353.0,1060.7 354.5,1060.6 356.0,1060.6 357.5,1060.6 359.0,1060.7 360.5,1060.8 362.0,1060.9 363.5,1061.1 365.0,1061.4 366.5,1061.7 368.0,1062.0 369.5,1062.4 371.0,1062.7 372.5,1063.1 374.0,1063.5 375.5,1063.9 377.0,1064.4 378.5,1064.8 380.0,1065.2 381.5,1065.6 383.0,1066.0 384.5,1066.4 386.0,1066.8 387.5,1067.1 389.0,1067.5 390.5,1067.8 392.0,1068.1 393.5,1068.4 395.0,1068.7 396.5,1069.0 398.0,1069.3 399.5,1069.7 401.0,1070.1 402.5,1070.6 404.0,1071.2 405.5,1071.8 407.0,1072.4 408.5,1072.9 410.0,1073.4 411.5,1073.8 413.0,1074.1 414.5,1074.4 416.0,1074.6 417.5,1074.8 419.0,1075.0 420.5,1075.1 422.0,1075.3 423.5,1075.4 425.0,1075.6 426.5,1075.7 428.0,1075.8 429.5,1076.0 431.0,1076.1 432.5,1076.2 434.0,1076.4 435.5,1076.5 437.0,1076.6 438.5,1076.8 440.0,1076.9 441.5,1077.0 443.0,1077.1 444.5,1077.3 446.0,1077.4 447.5,1077.5 449.0,1077.6 450.5,1077.8 452.0,1077.9 453.5,1078.0 455.0,1078.1 456.5,1078.3 458.0,1078.4 459.5,1078.5 461.0,1078.6 462.5,1078.8 464.0,1078.9 465.5,1079.0 467.0,1079.1 468.5,1079.2 470.0,1079.4 471.5,1079.5 473.0,1079.6 474.5,1079.7 476.0,1079.9 477.5,1080.0 479.0,1080.1 480.5,1080.2 482.0,1080.3 483.5,1080.5 485.0,1080.6 486.5,1080.7 488.0,1080.8 489.5,1080.9 491.0,1081.1 492.5,1081.2 494.0,1081.3 495.5,1081.4 497.0,1081.5 498.5,1081.7 500.0,1081.8 501.5,1081.9 503.0,1082.0 504.5,1082.1 506.0,1082.3 507.5,1082.4 509.0,1082.5 510.5,1082.6 512.0,1082.8 513.5,1082.9 515.0,1083.0 516.5,1083.2 518.0,1083.3 519.5,1083.5 521.0,1083.6 522.5,1083.8 524.0,1084.0 525.5,1084.1 527.0,1084.3 528.5,1084.5 530.0,1084.6 531.5,1084.8 533.0,1085.0 534.5,1085.1 536.0,1085.3 537.5,1085.5 539.0,1085.6 540.5,1085.8 542.0,1085.9 543.5,1086.1 545.0,1086.2 546.5,1086.3 548.0,1086.4 549.5,1086.5 551.0,1086.6 552.5,1086.7 554.0,1086.8 555.5,1086.9 557.0,1087.0 558.5,1087.1 560.0,1087.2 561.5,1087.3 563.0,1087.4 564.5,1087.5 566.0,1087.6 567.5,1087.6 569.0,1087.7 570.5,1087.8 572.0,1087.9 573.5,1088.0 575.0,1088.0 576.5,1088.1 578.0,1088.2 579.5,1088.3 581.0,1088.3 582.5,1088.4 584.0,1088.5 585.5,1088.5 587.0,1088.6 588.5,1088.7 590.0,1088.7 591.5,1088.8 593.0,1088.9 594.5,1088.9 596.0,1089.0 597.5,1089.0 599.0,1089.1 600.5,1089.1 602.0,1089.2 603.5,1089.2 605.0,1089.2 606.5,1089.3 608.0,1089.3 609.5,1089.3 611.0,1089.4 612.5,1089.4 614.0,1089.4 615.5,1089.4 617.0,1089.5 618.5,1089.5 620.0,1089.5" fill="none" stroke="#008000" stroke-width="4.6" stroke-dasharray="16.5 6.8" stroke-linecap="butt" stroke-linejoin="round" clip-path="url(#c3)"/><rect x="53.8" y="1.0" width="566.5" height="262.2" fill="none" stroke="#000" stroke-width="2.2"/><line x1="167" y1="1.0" x2="167" y2="10.5" stroke="#000" stroke-width="2.2"/><line x1="167" y1="263.2" x2="167" y2="253.7" stroke="#000" stroke-width="2.2"/><line x1="308.7" y1="1.0" x2="308.7" y2="10.5" stroke="#000" stroke-width="2.2"/><line x1="308.7" y1="263.2" x2="308.7" y2="253.7" stroke="#000" stroke-width="2.2"/><line x1="450.3" y1="1.0" x2="450.3" y2="10.5" stroke="#000" stroke-width="2.2"/><line x1="450.3" y1="263.2" x2="450.3" y2="253.7" stroke="#000" stroke-width="2.2"/><line x1="592" y1="1.0" x2="592" y2="10.5" stroke="#000" stroke-width="2.2"/><line x1="592" y1="263.2" x2="592" y2="253.7" stroke="#000" stroke-width="2.2"/><rect x="53.8" y="289.2" width="566.5" height="262.2" fill="none" stroke="#000" stroke-width="2.2"/><line x1="167" y1="289.2" x2="167" y2="298.7" stroke="#000" stroke-width="2.2"/><line x1="167" y1="551.4" x2="167" y2="541.9" stroke="#000" stroke-width="2.2"/><line x1="308.7" y1="289.2" x2="308.7" y2="298.7" stroke="#000" stroke-width="2.2"/><line x1="308.7" y1="551.4" x2="308.7" y2="541.9" stroke="#000" stroke-width="2.2"/><line x1="450.3" y1="289.2" x2="450.3" y2="298.7" stroke="#000" stroke-width="2.2"/><line x1="450.3" y1="551.4" x2="450.3" y2="541.9" stroke="#000" stroke-width="2.2"/><line x1="592" y1="289.2" x2="592" y2="298.7" stroke="#000" stroke-width="2.2"/><line x1="592" y1="551.4" x2="592" y2="541.9" stroke="#000" stroke-width="2.2"/><rect x="53.8" y="577.4" width="566.5" height="262.2" fill="none" stroke="#000" stroke-width="2.2"/><line x1="167" y1="577.4" x2="167" y2="586.9" stroke="#000" stroke-width="2.2"/><line x1="167" y1="839.5999999999999" x2="167" y2="830.0999999999999" stroke="#000" stroke-width="2.2"/><line x1="308.7" y1="577.4" x2="308.7" y2="586.9" stroke="#000" stroke-width="2.2"/><line x1="308.7" y1="839.5999999999999" x2="308.7" y2="830.0999999999999" stroke="#000" stroke-width="2.2"/><line x1="450.3" y1="577.4" x2="450.3" y2="586.9" stroke="#000" stroke-width="2.2"/><line x1="450.3" y1="839.5999999999999" x2="450.3" y2="830.0999999999999" stroke="#000" stroke-width="2.2"/><line x1="592" y1="577.4" x2="592" y2="586.9" stroke="#000" stroke-width="2.2"/><line x1="592" y1="839.5999999999999" x2="592" y2="830.0999999999999" stroke="#000" stroke-width="2.2"/><rect x="53.8" y="865.5" width="566.5" height="262.2" fill="none" stroke="#000" stroke-width="2.2"/><line x1="167" y1="865.5" x2="167" y2="875.0" stroke="#000" stroke-width="2.2"/><line x1="167" y1="1127.7" x2="167" y2="1118.2" stroke="#000" stroke-width="2.2"/><line x1="308.7" y1="865.5" x2="308.7" y2="875.0" stroke="#000" stroke-width="2.2"/><line x1="308.7" y1="1127.7" x2="308.7" y2="1118.2" stroke="#000" stroke-width="2.2"/><line x1="450.3" y1="865.5" x2="450.3" y2="875.0" stroke="#000" stroke-width="2.2"/><line x1="450.3" y1="1127.7" x2="450.3" y2="1118.2" stroke="#000" stroke-width="2.2"/><line x1="592" y1="865.5" x2="592" y2="875.0" stroke="#000" stroke-width="2.2"/><line x1="592" y1="1127.7" x2="592" y2="1118.2" stroke="#000" stroke-width="2.2"/><text transform="translate(70.5,53.9) scale(1,1.06)" font-size="29.3" font-weight="bold">a. Li<tspan font-weight="normal" font-size="21" dy="4.8">2</tspan><tspan dy="-4.8">S</tspan></text><text transform="translate(70.5,342.4) scale(1,1.06)" font-size="29.3" font-weight="bold">b. P<tspan font-weight="normal" font-size="21" dy="4.8">2</tspan><tspan dy="-4.8">S</tspan><tspan font-weight="normal" font-size="21" dy="4.8">5</tspan></text><text transform="translate(70.5,629.8) scale(1,1.06)" font-size="29.3" font-weight="bold">c. NiS</text><text transform="translate(70.5,918) scale(1,1.06)" font-size="29.3" font-weight="bold">d. LPS</text><line x1="389.2" y1="188.3" x2="446.1" y2="188.3" stroke="#000" stroke-width="4.6"/><text transform="translate(465,197.5) scale(1,1.07)" font-size="25.9">Experiment</text><line x1="389.2" y1="225" x2="446.1" y2="225" stroke="#ff0000" stroke-width="4.6"/><text transform="translate(465,234.2) scale(1,1.07)" font-size="25.9">Simulation</text><line x1="373.9" y1="387.9" x2="429.6" y2="387.9" stroke="#000" stroke-width="4.6"/><text transform="translate(448,397.1) scale(1,1.07)" font-size="25.9">SA-corrected</text><line x1="72.3" y1="410.8" x2="125.2" y2="410.8" stroke="#cc6a1f" stroke-width="4.6" stroke-dasharray="16.5 6.8"/><text transform="translate(144.5,420) scale(1,1.07)" font-size="25.9">S1</text><line x1="72.3" y1="447.7" x2="125.2" y2="447.7" stroke="#3b84c4" stroke-width="4.6" stroke-dasharray="16.5 6.8"/><text transform="translate(144.5,457) scale(1,1.07)" font-size="25.9">S2</text><line x1="436.9" y1="764.3" x2="493.1" y2="764.3" stroke="#ff0000" stroke-width="4.6"/><text transform="translate(511,773.5) scale(1,1.07)" font-size="25.9">DFT</text><line x1="436.9" y1="801.6" x2="493.1" y2="801.6" stroke="#ffa500" stroke-width="3.0"/><text transform="translate(511,810.8) scale(1,1.07)" font-size="25.9">DFT+U</text><line x1="72.3" y1="978.4" x2="124.9" y2="978.4" stroke="#800080" stroke-width="4.6" stroke-dasharray="16.5 6.8"/><text transform="translate(145.3,986.8) scale(1.07,1.07)" font-size="25.9">S</text><text transform="translate(163.3,974.8) scale(1.2,1.0)" font-size="17.5">(3)</text><line x1="72.3" y1="1020.7" x2="124.9" y2="1020.7" stroke="#0000ff" stroke-width="4.6" stroke-dasharray="16.5 6.8"/><text transform="translate(145.3,1029.1000000000001) scale(1.07,1.07)" font-size="25.9">S</text><text transform="translate(163.3,1017.1) scale(1.2,1.0)" font-size="17.5">(4)</text><line x1="72.3" y1="1063.1" x2="124.9" y2="1063.1" stroke="#008000" stroke-width="4.6" stroke-dasharray="16.5 6.8"/><text transform="translate(145.3,1071.5) scale(1.07,1.07)" font-size="25.9">S</text><text transform="translate(163.3,1059.5) scale(1.2,1.0)" font-size="17.5">(5)</text><text transform="translate(167,1158.8) scale(1,1.065)" font-size="29.5" text-anchor="middle">2470</text><text transform="translate(308.7,1158.8) scale(1,1.065)" font-size="29.5" text-anchor="middle">2475</text><text transform="translate(450.3,1158.8) scale(1,1.065)" font-size="29.5" text-anchor="middle">2480</text><text transform="translate(592,1158.8) scale(1,1.065)" font-size="29.5" text-anchor="middle">2485</text><text transform="translate(337,1197) scale(1,1.065)" font-size="29.5" text-anchor="middle">E (eV)</text><text transform="translate(19.5,551) rotate(-90) scale(1,1.065)" font-size="29.5" text-anchor="middle"><tspan font-style="italic">μ</tspan>(E) (a.u.)</text>
</svg></body></html>
